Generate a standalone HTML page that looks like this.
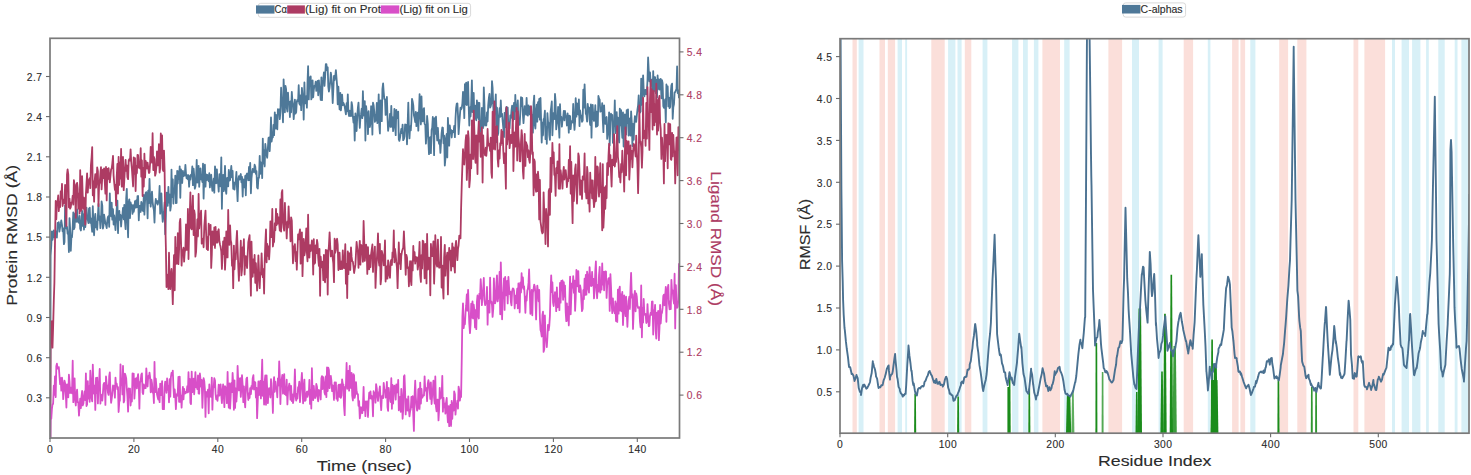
<!DOCTYPE html><html><head><meta charset="utf-8"><style>
html,body{margin:0;padding:0;background:#fff;}
body{width:1471px;height:475px;overflow:hidden;font-family:"Liberation Sans", sans-serif;}
svg{display:block;}
</style></head><body>
<svg width="1471" height="475" viewBox="0 0 1471 475" font-family='"Liberation Sans", sans-serif'>
<rect width="1471" height="475" fill="#fff"/>
<defs>
<clipPath id="cl"><rect x="50.0" y="38.3" width="629.5" height="399.7"/></clipPath>
<clipPath id="cr"><rect x="840.0" y="38.7" width="629.0" height="394.5"/></clipPath>
</defs>
<g clip-path="url(#cl)" fill="none" stroke-linejoin="round" stroke-linecap="butt">
<polyline points="50.3,438.0 50.6,255.7 51.3,245.3 51.9,231.3 52.5,239.9 53.1,236.1 53.8,230.4 54.4,237.4 55.0,235.2 55.7,235.3 56.3,231.4 56.9,237.7 57.6,223.0 58.2,226.5 58.8,222.2 59.4,231.6 60.1,227.0 60.7,224.0 61.3,220.3 62.0,224.8 62.6,231.4 63.2,228.5 63.9,244.2 64.5,242.0 65.1,205.4 65.7,211.4 66.4,228.5 67.0,226.9 67.6,233.7 68.3,234.4 68.9,252.0 69.5,218.1 70.1,227.7 70.8,250.8 71.4,236.8 72.0,237.2 72.7,226.5 73.3,212.3 73.9,229.2 74.6,227.5 75.2,213.4 75.8,215.5 76.4,221.8 77.1,209.5 77.7,219.1 78.3,222.3 79.0,222.8 79.6,215.9 80.2,228.6 80.9,230.5 81.5,223.3 82.1,211.0 82.7,225.9 83.4,214.3 84.0,229.6 84.6,207.4 85.3,227.2 85.9,219.5 86.5,207.6 87.1,217.8 87.8,219.5 88.4,223.2 89.0,208.6 89.7,207.8 90.3,222.9 90.9,218.5 91.6,225.8 92.2,231.8 92.8,206.2 93.4,224.3 94.1,235.3 94.7,219.6 95.3,213.8 96.0,227.4 96.6,222.5 97.2,229.8 97.9,216.1 98.5,203.9 99.1,219.9 99.7,216.5 100.4,228.1 101.0,220.6 101.6,201.4 102.3,205.7 102.9,228.6 103.5,225.6 104.1,214.6 104.8,219.4 105.4,223.3 106.0,224.6 106.7,228.1 107.3,220.6 107.9,216.9 108.6,215.9 109.2,226.8 109.8,193.4 110.4,214.8 111.1,216.2 111.7,202.7 112.3,219.6 113.0,209.2 113.6,224.5 114.2,215.4 114.9,222.9 115.5,230.2 116.1,220.1 116.7,208.8 117.4,200.6 118.0,233.1 118.6,214.4 119.3,210.9 119.9,219.8 120.5,215.0 121.1,226.5 121.8,217.1 122.4,215.1 123.0,207.8 123.7,219.3 124.3,204.8 124.9,220.5 125.6,229.2 126.2,198.6 126.8,188.8 127.4,219.3 128.1,237.3 128.7,202.2 129.3,199.3 130.0,218.0 130.6,202.4 131.2,205.3 131.9,205.1 132.5,213.9 133.1,205.2 133.7,211.8 134.4,208.0 135.0,201.1 135.6,207.7 136.3,200.4 136.9,207.3 137.5,196.2 138.1,196.0 138.8,220.3 139.4,205.8 140.0,205.9 140.7,212.0 141.3,201.8 141.9,203.8 142.6,210.4 143.2,211.0 143.8,194.8 144.4,214.6 145.1,200.2 145.7,192.8 146.3,192.2 147.0,200.4 147.6,218.3 148.2,190.7 148.9,203.1 149.5,178.8 150.1,198.1 150.7,206.7 151.4,197.0 152.0,191.6 152.6,201.8 153.3,207.4 153.9,210.0 154.5,222.5 155.1,206.2 155.8,198.9 156.4,202.8 157.0,200.8 157.7,204.7 158.3,201.2 158.9,202.6 159.6,186.0 160.2,213.7 160.8,198.9 161.4,193.5 162.1,212.4 162.7,221.8 163.3,217.3 164.0,211.7 164.6,202.4 165.2,234.3 165.9,215.8 166.5,192.7 167.1,198.2 167.7,205.9 168.4,186.9 169.0,202.6 169.6,194.3 170.3,210.6 170.9,206.4 171.5,169.6 172.1,197.1 172.8,179.3 173.4,203.6 174.0,190.2 174.7,191.8 175.3,175.6 175.9,203.2 176.6,202.9 177.2,170.8 177.8,183.5 178.4,171.5 179.1,179.2 179.7,166.3 180.3,197.8 181.0,169.5 181.6,175.7 182.2,183.0 182.9,170.9 183.5,176.1 184.1,172.9 184.7,175.7 185.4,164.9 186.0,173.5 186.6,178.3 187.3,175.1 187.9,179.4 188.5,175.2 189.1,186.8 189.8,176.1 190.4,179.7 191.0,174.7 191.7,175.0 192.3,166.5 192.9,185.2 193.6,168.7 194.2,175.8 194.8,188.7 195.4,186.8 196.1,178.6 196.7,159.8 197.3,182.5 198.0,182.1 198.6,165.9 199.2,186.8 199.9,174.1 200.5,168.4 201.1,179.4 201.7,177.8 202.4,182.2 203.0,163.6 203.6,198.6 204.3,174.4 204.9,164.7 205.5,186.7 206.1,174.4 206.8,180.1 207.4,174.8 208.0,177.1 208.7,181.4 209.3,173.2 209.9,187.4 210.6,176.1 211.2,174.8 211.8,185.0 212.4,190.8 213.1,185.1 213.7,178.7 214.3,192.7 215.0,166.4 215.6,171.9 216.2,183.3 216.9,169.3 217.5,182.9 218.1,183.0 218.7,191.6 219.4,174.2 220.0,176.9 220.6,186.3 221.3,157.3 221.9,208.8 222.5,178.0 223.1,174.8 223.8,191.1 224.4,183.3 225.0,165.9 225.7,189.6 226.3,193.8 226.9,178.3 227.6,177.8 228.2,186.4 228.8,169.9 229.4,180.7 230.1,180.0 230.7,172.3 231.3,166.0 232.0,177.3 232.6,170.9 233.2,188.8 233.9,182.4 234.5,189.7 235.1,183.5 235.7,181.7 236.4,171.9 237.0,188.6 237.6,201.1 238.3,179.9 238.9,176.2 239.5,179.5 240.1,176.4 240.8,174.0 241.4,182.3 242.0,176.9 242.7,196.5 243.3,179.3 243.9,182.2 244.6,187.5 245.2,175.8 245.8,195.3 246.4,175.0 247.1,173.5 247.7,175.4 248.3,180.3 249.0,167.0 249.6,180.2 250.2,162.8 250.9,193.3 251.5,178.3 252.1,172.5 252.7,168.8 253.4,170.4 254.0,172.3 254.6,164.7 255.3,166.7 255.9,174.0 256.5,171.2 257.1,187.5 257.8,188.6 258.4,177.8 259.0,177.9 259.7,155.9 260.3,173.8 260.9,162.4 261.6,165.6 262.2,178.1 262.8,138.6 263.4,163.6 264.1,150.4 264.7,166.4 265.3,143.9 266.0,150.3 266.6,154.9 267.2,157.8 267.9,147.7 268.5,137.9 269.1,137.4 269.7,151.2 270.4,137.5 271.0,117.5 271.6,141.7 272.3,136.4 272.9,137.2 273.5,124.8 274.1,135.1 274.8,112.4 275.4,128.5 276.0,114.9 276.7,125.8 277.3,129.4 277.9,109.1 278.6,112.2 279.2,109.4 279.8,119.2 280.4,111.7 281.1,87.7 281.7,101.4 282.3,104.4 283.0,122.3 283.6,79.3 284.2,92.8 284.9,112.3 285.5,86.0 286.1,89.2 286.7,107.3 287.4,111.5 288.0,92.6 288.6,103.5 289.3,101.9 289.9,117.0 290.5,101.4 291.1,112.3 291.8,91.8 292.4,100.8 293.0,104.5 293.7,119.1 294.3,111.2 294.9,99.6 295.6,113.5 296.2,112.1 296.8,101.8 297.4,99.8 298.1,101.4 298.7,85.2 299.3,103.6 300.0,104.8 300.6,95.5 301.2,110.1 301.9,87.8 302.5,95.2 303.1,98.4 303.7,119.6 304.4,82.4 305.0,101.6 305.6,103.4 306.3,96.2 306.9,107.7 307.5,82.8 308.1,66.2 308.8,99.4 309.4,77.3 310.0,85.6 310.7,76.4 311.3,99.4 311.9,96.8 312.6,80.3 313.2,97.3 313.8,89.8 314.4,85.8 315.1,86.3 315.7,81.7 316.3,90.9 317.0,87.3 317.6,80.8 318.2,95.3 318.9,80.4 319.5,89.4 320.1,91.2 320.7,99.9 321.4,77.3 322.0,100.2 322.6,82.1 323.3,79.4 323.9,72.5 324.5,85.9 325.1,77.1 325.8,64.2 326.4,64.2 327.0,70.4 327.7,67.3 328.3,86.7 328.9,91.6 329.6,87.5 330.2,81.4 330.8,72.6 331.4,76.7 332.1,87.2 332.7,103.0 333.3,90.0 334.0,75.8 334.6,80.2 335.2,76.5 335.9,70.2 336.5,77.8 337.1,85.6 337.7,104.3 338.4,86.7 339.0,101.0 339.6,109.4 340.3,92.9 340.9,110.4 341.5,104.6 342.1,94.6 342.8,105.1 343.4,102.8 344.0,104.4 344.7,106.5 345.3,110.7 345.9,114.4 346.6,103.2 347.2,111.0 347.8,94.3 348.4,112.1 349.1,116.1 349.7,110.7 350.3,113.0 351.0,116.2 351.6,102.1 352.2,105.6 352.9,116.6 353.5,122.6 354.1,116.9 354.7,140.5 355.4,113.5 356.0,126.8 356.6,131.0 357.3,115.8 357.9,107.6 358.5,102.6 359.1,115.4 359.8,127.9 360.4,118.1 361.0,114.7 361.7,108.6 362.3,118.2 362.9,91.2 363.6,115.5 364.2,114.8 364.8,101.2 365.4,140.5 366.1,106.1 366.7,112.9 367.3,112.5 368.0,134.1 368.6,111.1 369.2,126.4 369.9,127.0 370.5,122.7 371.1,106.2 371.7,111.4 372.4,134.6 373.0,102.7 373.6,105.2 374.3,111.8 374.9,121.9 375.5,114.8 376.1,120.6 376.8,103.0 377.4,123.2 378.0,118.3 378.7,94.3 379.3,125.8 379.9,133.5 380.6,100.4 381.2,108.3 381.8,121.2 382.4,89.2 383.1,83.4 383.7,92.1 384.3,99.0 385.0,99.1 385.6,114.9 386.2,113.5 386.9,97.0 387.5,117.5 388.1,130.8 388.7,126.4 389.4,123.7 390.0,113.9 390.6,126.9 391.3,105.8 391.9,126.5 392.5,117.2 393.1,131.1 393.8,124.5 394.4,108.9 395.0,122.9 395.7,135.2 396.3,109.9 396.9,118.3 397.6,117.4 398.2,111.7 398.8,139.4 399.4,140.9 400.1,137.3 400.7,133.0 401.3,128.8 402.0,133.1 402.6,124.6 403.2,140.2 403.9,138.9 404.5,136.6 405.1,124.4 405.7,130.1 406.4,124.8 407.0,144.3 407.6,125.4 408.3,102.6 408.9,126.6 409.5,138.4 410.1,126.4 410.8,130.4 411.4,120.8 412.0,98.8 412.7,101.7 413.3,105.4 413.9,115.3 414.6,118.0 415.2,122.0 415.8,111.8 416.4,126.2 417.1,115.0 417.7,112.7 418.3,130.6 419.0,111.4 419.6,94.1 420.2,113.0 420.9,124.4 421.5,96.4 422.1,120.5 422.7,121.4 423.4,109.3 424.0,108.1 424.6,123.8 425.3,124.9 425.9,143.7 426.5,135.0 427.1,116.0 427.8,123.8 428.4,141.9 429.0,154.2 429.7,137.8 430.3,137.1 430.9,153.1 431.6,130.0 432.2,127.7 432.8,117.0 433.4,127.7 434.1,155.2 434.7,118.1 435.3,133.9 436.0,116.7 436.6,130.6 437.2,140.4 437.9,127.8 438.5,140.4 439.1,143.9 439.7,140.2 440.4,152.9 441.0,143.2 441.6,133.0 442.3,127.5 442.9,127.8 443.5,143.3 444.1,135.6 444.8,165.6 445.4,158.8 446.0,137.8 446.7,133.9 447.3,157.4 447.9,117.8 448.6,132.5 449.2,145.6 449.8,125.5 450.4,130.8 451.1,129.9 451.7,137.5 452.3,130.8 453.0,131.4 453.6,132.2 454.2,125.9 454.9,137.1 455.5,118.5 456.1,108.1 456.7,103.8 457.4,103.4 458.0,115.4 458.6,134.2 459.3,123.4 459.9,115.4 460.5,107.7 461.1,109.5 461.8,107.9 462.4,103.0 463.0,91.8 463.7,101.1 464.3,118.1 464.9,84.2 465.6,104.4 466.2,82.6 466.8,105.1 467.4,95.4 468.1,82.0 468.7,106.2 469.3,125.5 470.0,107.5 470.6,116.5 471.2,102.7 471.9,80.3 472.5,112.0 473.1,102.4 473.7,92.9 474.4,119.5 475.0,114.9 475.6,105.7 476.3,120.3 476.9,100.5 477.5,117.6 478.1,102.6 478.8,119.3 479.4,102.9 480.0,131.5 480.7,120.9 481.3,132.1 481.9,107.9 482.6,112.4 483.2,127.9 483.8,87.3 484.4,103.1 485.1,125.5 485.7,118.3 486.3,125.5 487.0,112.4 487.6,121.5 488.2,105.7 488.9,97.7 489.5,93.8 490.1,107.6 490.7,106.4 491.4,103.3 492.0,81.1 492.6,87.8 493.3,106.9 493.9,119.7 494.5,109.7 495.1,107.9 495.8,94.3 496.4,142.0 497.0,107.7 497.7,135.2 498.3,133.0 498.9,116.5 499.6,108.1 500.2,116.9 500.8,100.5 501.4,116.0 502.1,113.9 502.7,121.6 503.3,127.9 504.0,137.0 504.6,112.8 505.2,127.3 505.9,109.2 506.5,106.8 507.1,109.5 507.7,107.6 508.4,128.3 509.0,125.3 509.6,128.4 510.3,115.3 510.9,118.0 511.5,110.3 512.1,105.6 512.8,121.2 513.4,118.1 514.0,102.9 514.7,119.2 515.3,94.8 515.9,111.3 516.6,107.5 517.2,107.5 517.8,100.3 518.4,124.8 519.1,119.1 519.7,124.8 520.3,112.6 521.0,97.2 521.6,106.2 522.2,97.9 522.9,115.0 523.5,123.1 524.1,114.7 524.7,106.1 525.4,109.5 526.0,114.7 526.6,97.8 527.3,114.9 527.9,115.5 528.5,105.3 529.1,108.1 529.8,114.5 530.4,106.6 531.0,107.4 531.7,122.8 532.3,115.0 532.9,132.7 533.6,102.8 534.2,95.6 534.8,124.9 535.4,128.5 536.1,110.4 536.7,104.7 537.3,121.7 538.0,102.2 538.6,116.8 539.2,99.0 539.9,119.7 540.5,98.0 541.1,120.1 541.7,142.5 542.4,122.6 543.0,135.4 543.6,119.3 544.3,118.1 544.9,110.7 545.5,139.2 546.1,127.0 546.8,143.8 547.4,113.1 548.0,121.8 548.7,122.9 549.3,135.5 549.9,139.9 550.6,111.7 551.2,107.2 551.8,101.5 552.4,135.3 553.1,119.0 553.7,112.9 554.3,119.2 555.0,94.0 555.6,101.4 556.2,129.4 556.9,123.2 557.5,120.3 558.1,106.8 558.7,123.2 559.4,137.7 560.0,104.2 560.6,119.0 561.3,116.8 561.9,126.6 562.5,119.5 563.1,118.5 563.8,110.8 564.4,120.4 565.0,111.0 565.7,117.0 566.3,116.0 566.9,125.5 567.6,113.3 568.2,119.1 568.8,132.7 569.4,115.7 570.1,116.3 570.7,129.2 571.3,121.5 572.0,120.9 572.6,122.5 573.2,104.0 573.9,121.5 574.5,129.9 575.1,121.4 575.7,98.2 576.4,116.7 577.0,103.3 577.6,111.2 578.3,114.6 578.9,99.5 579.5,126.1 580.1,110.5 580.8,116.9 581.4,115.5 582.0,121.8 582.7,120.5 583.3,89.6 583.9,107.6 584.6,84.4 585.2,100.7 585.8,113.8 586.4,114.9 587.1,121.6 587.7,103.9 588.3,109.9 589.0,107.6 589.6,119.9 590.2,125.0 590.9,104.5 591.5,137.7 592.1,107.5 592.7,105.0 593.4,118.6 594.0,120.9 594.6,118.2 595.3,105.2 595.9,126.8 596.5,111.7 597.1,126.4 597.8,125.2 598.4,96.0 599.0,98.5 599.7,99.7 600.3,111.6 600.9,110.1 601.6,111.2 602.2,103.1 602.8,120.1 603.4,132.2 604.1,105.3 604.7,118.4 605.3,123.8 606.0,118.9 606.6,117.0 607.2,138.9 607.9,133.2 608.5,128.3 609.1,112.4 609.7,145.4 610.4,123.2 611.0,113.6 611.6,116.0 612.3,114.9 612.9,142.8 613.5,124.5 614.1,126.0 614.8,100.3 615.4,133.0 616.0,114.4 616.7,112.1 617.3,131.4 617.9,117.6 618.6,137.2 619.2,142.5 619.8,108.6 620.4,125.4 621.1,110.2 621.7,127.2 622.3,137.8 623.0,112.5 623.6,146.5 624.2,122.8 624.9,114.3 625.5,121.8 626.1,134.5 626.7,110.1 627.4,123.2 628.0,109.3 628.6,135.6 629.3,125.1 629.9,118.4 630.5,135.5 631.1,111.3 631.8,122.7 632.4,146.1 633.0,123.9 633.7,139.8 634.3,124.9 634.9,116.1 635.6,121.2 636.2,121.8 636.8,115.5 637.4,110.0 638.1,105.3 638.7,95.4 639.3,111.5 640.0,112.5 640.6,111.5 641.2,78.6 641.9,104.8 642.5,92.9 643.1,75.4 643.7,89.8 644.4,96.3 645.0,90.1 645.6,89.9 646.3,94.4 646.9,90.9 647.5,80.5 648.1,57.5 648.8,71.3 649.4,81.3 650.0,72.3 650.7,84.1 651.3,85.8 651.9,79.6 652.6,100.5 653.2,71.1 653.8,91.3 654.4,77.2 655.1,77.2 655.7,93.0 656.3,79.8 657.0,97.5 657.6,75.5 658.2,88.9 658.9,79.4 659.5,89.6 660.1,87.2 660.7,78.9 661.4,98.3 662.0,80.1 662.6,83.2 663.3,106.2 663.9,107.8 664.5,104.8 665.1,99.4 665.8,122.4 666.4,84.5 667.0,89.9 667.7,86.5 668.3,106.4 668.9,97.6 669.6,108.1 670.2,106.8 670.8,92.9 671.4,85.4 672.1,83.7 672.7,118.8 673.3,107.4 674.0,104.1 674.6,92.5 675.2,92.1 675.9,90.2 676.5,89.1 677.1,66.5 677.7,93.0 678.4,90.4 679.0,98.3" stroke="#4e7898" stroke-width="1.8"/>
<polyline points="50.3,438.0 50.6,343.3 51.3,338.7 51.9,321.2 52.5,347.7 53.1,327.8 53.8,301.1 54.4,282.7 55.0,241.8 55.7,200.9 56.3,219.3 56.9,202.4 57.6,201.6 58.2,195.5 58.8,211.2 59.4,202.3 60.1,207.2 60.7,191.4 61.3,198.5 62.0,183.8 62.6,206.0 63.2,199.3 63.9,203.3 64.5,202.4 65.1,184.8 65.7,209.8 66.4,226.1 67.0,174.6 67.6,169.3 68.3,174.6 68.9,207.3 69.5,198.6 70.1,208.7 70.8,207.1 71.4,202.5 72.0,202.6 72.7,195.6 73.3,204.6 73.9,180.1 74.6,185.9 75.2,196.1 75.8,217.8 76.4,184.3 77.1,182.9 77.7,188.2 78.3,208.6 79.0,193.7 79.6,213.5 80.2,170.2 80.9,210.9 81.5,209.5 82.1,176.1 82.7,195.3 83.4,208.6 84.0,197.7 84.6,208.4 85.3,224.5 85.9,194.0 86.5,183.7 87.1,173.3 87.8,192.6 88.4,181.8 89.0,180.0 89.7,178.3 90.3,188.1 90.9,165.3 91.6,157.3 92.2,147.1 92.8,195.3 93.4,181.1 94.1,201.7 94.7,180.7 95.3,174.1 96.0,187.7 96.6,181.5 97.2,167.3 97.9,171.2 98.5,206.1 99.1,184.8 99.7,182.6 100.4,173.6 101.0,167.2 101.6,189.4 102.3,176.8 102.9,169.6 103.5,178.2 104.1,168.4 104.8,182.5 105.4,193.7 106.0,167.0 106.7,200.4 107.3,168.9 107.9,179.1 108.6,168.1 109.2,176.5 109.8,182.3 110.4,176.3 111.1,169.3 111.7,168.5 112.3,163.5 113.0,155.9 113.6,175.6 114.2,182.7 114.9,190.0 115.5,185.2 116.1,205.5 116.7,176.9 117.4,163.9 118.0,193.6 118.6,156.8 119.3,184.9 119.9,162.6 120.5,178.7 121.1,148.8 121.8,186.7 122.4,173.7 123.0,157.0 123.7,190.2 124.3,180.5 124.9,169.1 125.6,159.8 126.2,170.9 126.8,165.5 127.4,177.2 128.1,179.1 128.7,160.4 129.3,159.1 130.0,160.6 130.6,149.3 131.2,161.3 131.9,168.8 132.5,177.8 133.1,186.4 133.7,157.4 134.4,173.8 135.0,158.1 135.6,191.1 136.3,165.7 136.9,173.4 137.5,154.8 138.1,155.3 138.8,167.7 139.4,161.9 140.0,168.5 140.7,148.2 141.3,176.7 141.9,160.5 142.6,196.1 143.2,168.0 143.8,186.6 144.4,153.7 145.1,177.4 145.7,160.9 146.3,163.9 147.0,168.5 147.6,162.7 148.2,167.2 148.9,173.0 149.5,172.4 150.1,163.3 150.7,146.9 151.4,153.2 152.0,162.7 152.6,133.2 153.3,170.1 153.9,156.9 154.5,158.9 155.1,175.7 155.8,173.0 156.4,166.3 157.0,151.4 157.7,165.4 158.3,165.2 158.9,144.2 159.6,172.6 160.2,168.1 160.8,133.4 161.4,158.1 162.1,135.5 162.7,169.5 163.3,171.0 164.0,150.6 164.6,170.0 165.2,218.5 165.9,248.7 166.5,287.0 167.1,283.7 167.7,274.7 168.4,289.1 169.0,252.7 169.6,280.6 170.3,289.2 170.9,274.7 171.5,269.0 172.1,282.7 172.8,304.2 173.4,276.2 174.0,255.1 174.7,290.3 175.3,236.8 175.9,264.0 176.6,248.0 177.2,263.3 177.8,233.2 178.4,264.2 179.1,249.3 179.7,222.4 180.3,219.0 181.0,241.6 181.6,265.6 182.2,252.9 182.9,250.2 183.5,247.7 184.1,261.6 184.7,252.5 185.4,248.1 186.0,224.4 186.6,249.9 187.3,249.7 187.9,209.0 188.5,259.1 189.1,231.3 189.8,213.5 190.4,192.3 191.0,228.0 191.7,229.3 192.3,210.3 192.9,195.6 193.6,235.1 194.2,210.5 194.8,214.5 195.4,256.7 196.1,251.8 196.7,237.6 197.3,219.5 198.0,236.4 198.6,193.9 199.2,228.5 199.9,219.7 200.5,215.6 201.1,210.6 201.7,243.7 202.4,239.9 203.0,238.8 203.6,247.3 204.3,226.2 204.9,218.1 205.5,210.6 206.1,232.4 206.8,249.0 207.4,237.3 208.0,250.1 208.7,223.6 209.3,233.3 209.9,234.5 210.6,224.8 211.2,267.9 211.8,254.7 212.4,231.3 213.1,234.5 213.7,244.8 214.3,227.3 215.0,247.9 215.6,227.0 216.2,242.7 216.9,231.9 217.5,242.5 218.1,231.0 218.7,229.3 219.4,241.2 220.0,244.5 220.6,246.8 221.3,251.6 221.9,268.9 222.5,257.4 223.1,241.3 223.8,254.1 224.4,237.6 225.0,269.7 225.7,255.3 226.3,231.4 226.9,257.4 227.6,257.4 228.2,210.0 228.8,239.2 229.4,244.9 230.1,225.5 230.7,240.2 231.3,243.0 232.0,265.7 232.6,260.2 233.2,288.2 233.9,245.6 234.5,269.3 235.1,254.9 235.7,259.4 236.4,240.7 237.0,230.8 237.6,248.1 238.3,267.3 238.9,280.8 239.5,264.4 240.1,262.5 240.8,240.7 241.4,275.4 242.0,269.7 242.7,247.2 243.3,251.3 243.9,239.2 244.6,274.5 245.2,259.0 245.8,256.2 246.4,263.3 247.1,268.0 247.7,254.5 248.3,242.1 249.0,238.5 249.6,235.2 250.2,269.5 250.9,295.7 251.5,241.6 252.1,266.4 252.7,276.8 253.4,259.5 254.0,272.7 254.6,255.0 255.3,282.8 255.9,263.2 256.5,278.6 257.1,290.6 257.8,275.2 258.4,255.4 259.0,270.5 259.7,288.1 260.3,272.7 260.9,274.6 261.6,253.3 262.2,268.3 262.8,277.1 263.4,269.2 264.1,293.5 264.7,261.6 265.3,244.1 266.0,229.4 266.6,262.3 267.2,244.0 267.9,255.8 268.5,246.3 269.1,259.4 269.7,249.2 270.4,221.3 271.0,229.2 271.6,237.2 272.3,209.0 272.9,246.5 273.5,241.6 274.1,242.0 274.8,223.2 275.4,230.3 276.0,208.9 276.7,225.0 277.3,214.0 277.9,223.5 278.6,217.3 279.2,223.9 279.8,230.7 280.4,199.4 281.1,231.5 281.7,192.9 282.3,190.1 283.0,222.3 283.6,227.8 284.2,230.7 284.9,202.8 285.5,223.4 286.1,222.6 286.7,238.4 287.4,221.3 288.0,227.6 288.6,206.4 289.3,223.1 289.9,221.9 290.5,241.3 291.1,217.3 291.8,220.6 292.4,243.3 293.0,263.3 293.7,246.4 294.3,251.1 294.9,244.1 295.6,261.1 296.2,252.2 296.8,269.6 297.4,253.5 298.1,234.4 298.7,239.4 299.3,234.1 300.0,229.5 300.6,263.7 301.2,257.8 301.9,232.3 302.5,276.2 303.1,254.4 303.7,239.0 304.4,255.3 305.0,251.8 305.6,244.0 306.3,228.4 306.9,252.6 307.5,261.3 308.1,214.7 308.8,257.4 309.4,257.5 310.0,245.1 310.7,251.0 311.3,247.5 311.9,240.5 312.6,247.7 313.2,274.6 313.8,239.2 314.4,263.9 315.1,262.7 315.7,245.5 316.3,253.4 317.0,239.8 317.6,244.0 318.2,257.6 318.9,266.0 319.5,249.0 320.1,295.8 320.7,256.7 321.4,267.4 322.0,262.6 322.6,261.8 323.3,280.1 323.9,255.0 324.5,280.0 325.1,282.3 325.8,249.8 326.4,277.3 327.0,250.5 327.7,294.5 328.3,252.7 328.9,246.0 329.6,232.4 330.2,245.7 330.8,256.4 331.4,251.5 332.1,250.6 332.7,258.4 333.3,263.1 334.0,282.2 334.6,238.7 335.2,252.8 335.9,250.1 336.5,240.2 337.1,238.8 337.7,244.5 338.4,270.1 339.0,257.0 339.6,252.7 340.3,269.2 340.9,268.3 341.5,261.4 342.1,269.2 342.8,250.3 343.4,266.9 344.0,268.1 344.7,258.1 345.3,244.2 345.9,283.7 346.6,264.1 347.2,298.0 347.8,251.5 348.4,274.2 349.1,253.2 349.7,261.8 350.3,270.0 351.0,247.4 351.6,256.9 352.2,261.2 352.9,261.9 353.5,266.6 354.1,273.0 354.7,269.3 355.4,264.9 356.0,253.1 356.6,241.8 357.3,249.2 357.9,251.5 358.5,267.8 359.1,252.1 359.8,240.8 360.4,264.6 361.0,245.0 361.7,245.7 362.3,250.5 362.9,261.8 363.6,221.0 364.2,240.4 364.8,260.9 365.4,254.2 366.1,244.6 366.7,250.2 367.3,273.9 368.0,247.2 368.6,268.0 369.2,269.3 369.9,255.5 370.5,267.2 371.1,254.4 371.7,249.5 372.4,244.5 373.0,271.9 373.6,255.3 374.3,253.8 374.9,246.6 375.5,287.9 376.1,272.3 376.8,259.7 377.4,249.9 378.0,233.5 378.7,260.7 379.3,265.6 379.9,243.8 380.6,284.3 381.2,278.6 381.8,250.9 382.4,253.7 383.1,256.8 383.7,265.3 384.3,260.1 385.0,240.4 385.6,281.5 386.2,266.2 386.9,278.5 387.5,278.5 388.1,260.4 388.7,267.2 389.4,275.3 390.0,277.8 390.6,262.0 391.3,259.9 391.9,265.0 392.5,252.3 393.1,256.8 393.8,230.4 394.4,262.3 395.0,249.0 395.7,254.8 396.3,261.9 396.9,267.1 397.6,288.2 398.2,266.6 398.8,242.5 399.4,263.6 400.1,253.8 400.7,269.2 401.3,255.8 402.0,251.3 402.6,249.4 403.2,247.8 403.9,231.4 404.5,245.5 405.1,256.0 405.7,274.8 406.4,254.9 407.0,257.4 407.6,268.0 408.3,267.3 408.9,286.3 409.5,272.8 410.1,261.1 410.8,280.2 411.4,285.2 412.0,261.1 412.7,270.4 413.3,246.0 413.9,260.7 414.6,252.2 415.2,263.6 415.8,257.0 416.4,260.9 417.1,257.5 417.7,269.5 418.3,265.4 419.0,255.5 419.6,241.9 420.2,274.7 420.9,282.0 421.5,255.1 422.1,268.4 422.7,240.7 423.4,241.5 424.0,255.3 424.6,278.3 425.3,244.0 425.9,247.8 426.5,283.4 427.1,234.0 427.8,269.5 428.4,268.3 429.0,257.6 429.7,262.0 430.3,295.3 430.9,243.9 431.6,255.5 432.2,256.1 432.8,249.9 433.4,241.3 434.1,283.6 434.7,265.5 435.3,235.2 436.0,252.6 436.6,264.8 437.2,266.6 437.9,239.6 438.5,260.3 439.1,267.8 439.7,265.4 440.4,267.2 441.0,237.0 441.6,287.5 442.3,265.6 442.9,286.9 443.5,298.5 444.1,257.7 444.8,244.8 445.4,275.6 446.0,262.5 446.7,257.0 447.3,252.7 447.9,294.4 448.6,263.2 449.2,247.9 449.8,259.6 450.4,250.7 451.1,270.5 451.7,258.5 452.3,243.3 453.0,266.3 453.6,247.4 454.2,265.5 454.9,272.7 455.5,246.0 456.1,240.9 456.7,250.9 457.4,260.2 458.0,248.9 458.6,245.3 459.3,235.6 459.9,237.8 460.5,238.4 461.1,208.5 461.8,183.1 462.4,165.2 463.0,149.2 463.7,161.4 464.3,164.5 464.9,154.3 465.6,140.5 466.2,135.1 466.8,179.9 467.4,164.5 468.1,131.2 468.7,138.4 469.3,187.3 470.0,178.9 470.6,154.5 471.2,168.3 471.9,120.3 472.5,147.2 473.1,159.0 473.7,110.6 474.4,131.7 475.0,157.0 475.6,162.9 476.3,135.3 476.9,151.8 477.5,174.0 478.1,135.2 478.8,121.2 479.4,141.7 480.0,132.9 480.7,156.8 481.3,142.5 481.9,127.3 482.6,182.6 483.2,135.3 483.8,151.6 484.4,151.2 485.1,155.4 485.7,147.7 486.3,155.8 487.0,148.1 487.6,129.0 488.2,145.6 488.9,143.6 489.5,145.7 490.1,150.8 490.7,137.7 491.4,172.7 492.0,177.9 492.6,111.7 493.3,148.9 493.9,134.2 494.5,101.3 495.1,149.5 495.8,127.2 496.4,131.2 497.0,126.1 497.7,159.2 498.3,166.6 498.9,150.4 499.6,158.7 500.2,143.2 500.8,145.2 501.4,130.0 502.1,143.0 502.7,131.6 503.3,150.8 504.0,163.2 504.6,153.5 505.2,163.8 505.9,188.7 506.5,107.3 507.1,144.5 507.7,137.9 508.4,138.0 509.0,122.7 509.6,148.2 510.3,140.4 510.9,135.0 511.5,143.0 512.1,139.4 512.8,112.2 513.4,171.1 514.0,147.8 514.7,132.4 515.3,146.6 515.9,128.6 516.6,107.8 517.2,160.5 517.8,111.4 518.4,136.3 519.1,144.2 519.7,161.1 520.3,161.3 521.0,141.9 521.6,130.1 522.2,136.8 522.9,171.0 523.5,178.7 524.1,158.2 524.7,134.0 525.4,165.9 526.0,142.2 526.6,144.0 527.3,146.0 527.9,157.2 528.5,150.3 529.1,159.6 529.8,162.8 530.4,150.9 531.0,106.2 531.7,119.6 532.3,154.1 532.9,152.4 533.6,195.3 534.2,159.4 534.8,161.8 535.4,186.5 536.1,191.8 536.7,174.3 537.3,191.2 538.0,171.7 538.6,180.1 539.2,219.4 539.9,180.0 540.5,221.6 541.1,225.8 541.7,231.1 542.4,233.4 543.0,232.4 543.6,192.3 544.3,214.3 544.9,218.9 545.5,244.0 546.1,208.8 546.8,217.3 547.4,219.0 548.0,246.4 548.7,191.1 549.3,189.0 549.9,214.8 550.6,157.8 551.2,191.9 551.8,169.8 552.4,142.8 553.1,163.2 553.7,152.3 554.3,174.5 555.0,176.0 555.6,195.8 556.2,168.1 556.9,173.2 557.5,161.4 558.1,170.1 558.7,188.5 559.4,144.1 560.0,188.8 560.6,170.1 561.3,176.5 561.9,178.9 562.5,188.7 563.1,173.4 563.8,166.8 564.4,179.5 565.0,174.3 565.7,170.1 566.3,176.6 566.9,187.2 567.6,179.0 568.2,181.2 568.8,159.8 569.4,178.2 570.1,146.2 570.7,193.7 571.3,162.0 572.0,198.7 572.6,223.2 573.2,175.3 573.9,201.0 574.5,185.0 575.1,169.2 575.7,164.5 576.4,186.7 577.0,203.5 577.6,185.0 578.3,153.4 578.9,156.3 579.5,171.4 580.1,194.8 580.8,180.4 581.4,184.0 582.0,198.9 582.7,176.5 583.3,179.8 583.9,178.8 584.6,153.5 585.2,192.0 585.8,190.2 586.4,198.4 587.1,166.8 587.7,173.7 588.3,203.4 589.0,195.0 589.6,211.6 590.2,172.6 590.9,192.6 591.5,180.3 592.1,198.3 592.7,180.3 593.4,197.9 594.0,207.2 594.6,201.6 595.3,157.0 595.9,201.3 596.5,193.3 597.1,166.3 597.8,167.1 598.4,183.4 599.0,196.5 599.7,180.0 600.3,163.2 600.9,192.4 601.6,192.2 602.2,230.3 602.8,164.1 603.4,227.7 604.1,212.2 604.7,187.4 605.3,208.8 606.0,185.9 606.6,198.0 607.2,163.2 607.9,175.0 608.5,155.9 609.1,143.7 609.7,166.3 610.4,155.2 611.0,172.1 611.6,186.5 612.3,159.7 612.9,162.7 613.5,165.2 614.1,134.2 614.8,166.5 615.4,160.8 616.0,161.9 616.7,141.6 617.3,126.2 617.9,156.6 618.6,164.2 619.2,177.0 619.8,174.5 620.4,182.5 621.1,164.0 621.7,172.3 622.3,150.7 623.0,169.6 623.6,170.0 624.2,191.5 624.9,151.9 625.5,127.3 626.1,175.3 626.7,140.9 627.4,153.7 628.0,151.1 628.6,141.4 629.3,179.6 629.9,166.6 630.5,145.5 631.1,158.8 631.8,151.0 632.4,167.3 633.0,153.0 633.7,144.0 634.3,145.3 634.9,149.1 635.6,156.5 636.2,135.6 636.8,152.6 637.4,164.1 638.1,193.2 638.7,166.3 639.3,105.5 640.0,141.4 640.6,141.3 641.2,147.3 641.9,167.7 642.5,151.8 643.1,97.7 643.7,138.1 644.4,132.2 645.0,130.7 645.6,145.8 646.3,103.0 646.9,138.6 647.5,87.1 648.1,118.1 648.8,124.7 649.4,149.9 650.0,98.6 650.7,80.2 651.3,112.1 651.9,89.4 652.6,129.5 653.2,93.2 653.8,90.8 654.4,125.3 655.1,104.5 655.7,121.9 656.3,83.7 657.0,134.5 657.6,100.1 658.2,130.6 658.9,98.6 659.5,95.8 660.1,122.3 660.7,129.2 661.4,158.9 662.0,137.7 662.6,148.1 663.3,152.4 663.9,183.4 664.5,123.9 665.1,161.2 665.8,134.8 666.4,146.1 667.0,134.9 667.7,168.3 668.3,123.4 668.9,123.6 669.6,144.4 670.2,124.1 670.8,159.1 671.4,159.8 672.1,132.8 672.7,156.4 673.3,135.0 674.0,150.6 674.6,151.6 675.2,183.4 675.9,154.8 676.5,137.6 677.1,137.4 677.7,175.3 678.4,127.1 679.0,150.9" stroke="#ad3b63" stroke-width="1.8"/>
<polyline points="50.3,438.0 50.6,407.3 51.3,418.8 51.9,409.2 52.5,404.5 53.1,403.9 53.8,385.7 54.4,394.9 55.0,376.3 55.7,397.1 56.3,366.1 56.9,363.6 57.6,368.6 58.2,368.4 58.8,367.1 59.4,374.9 60.1,384.2 60.7,378.1 61.3,390.6 62.0,377.7 62.6,382.9 63.2,399.2 63.9,389.9 64.5,380.7 65.1,383.3 65.7,392.1 66.4,407.5 67.0,384.3 67.6,385.2 68.3,397.3 68.9,374.7 69.5,381.3 70.1,393.0 70.8,391.8 71.4,387.5 72.0,393.3 72.7,360.7 73.3,402.2 73.9,384.2 74.6,378.3 75.2,400.4 75.8,405.5 76.4,394.4 77.1,389.7 77.7,402.2 78.3,402.2 79.0,415.7 79.6,406.4 80.2,398.6 80.9,408.2 81.5,396.7 82.1,391.0 82.7,405.4 83.4,403.4 84.0,396.5 84.6,391.3 85.3,400.1 85.9,373.3 86.5,406.0 87.1,404.5 87.8,381.1 88.4,398.7 89.0,386.7 89.7,401.8 90.3,370.7 90.9,380.2 91.6,398.3 92.2,401.4 92.8,364.6 93.4,383.3 94.1,393.7 94.7,385.7 95.3,409.9 96.0,378.0 96.6,393.1 97.2,377.6 97.9,403.4 98.5,385.6 99.1,382.3 99.7,369.0 100.4,403.7 101.0,394.5 101.6,396.5 102.3,400.6 102.9,393.7 103.5,384.5 104.1,383.0 104.8,383.1 105.4,404.9 106.0,376.5 106.7,384.4 107.3,386.0 107.9,392.5 108.6,394.9 109.2,376.2 109.8,372.4 110.4,390.2 111.1,402.8 111.7,398.9 112.3,393.8 113.0,385.5 113.6,389.9 114.2,386.1 114.9,397.6 115.5,377.6 116.1,385.6 116.7,383.5 117.4,389.4 118.0,387.2 118.6,412.0 119.3,401.8 119.9,400.3 120.5,364.3 121.1,384.9 121.8,380.7 122.4,394.4 123.0,365.8 123.7,402.4 124.3,400.6 124.9,373.6 125.6,375.6 126.2,378.5 126.8,388.5 127.4,396.1 128.1,411.6 128.7,388.5 129.3,397.3 130.0,388.6 130.6,405.5 131.2,395.2 131.9,401.5 132.5,373.4 133.1,382.0 133.7,373.6 134.4,398.6 135.0,388.6 135.6,378.7 136.3,378.1 136.9,388.4 137.5,378.1 138.1,374.1 138.8,386.1 139.4,408.7 140.0,382.5 140.7,381.1 141.3,374.7 141.9,373.4 142.6,392.7 143.2,394.0 143.8,384.3 144.4,388.4 145.1,385.3 145.7,388.2 146.3,368.3 147.0,378.9 147.6,386.5 148.2,376.2 148.9,377.9 149.5,372.6 150.1,377.2 150.7,392.3 151.4,379.7 152.0,383.1 152.6,392.5 153.3,391.9 153.9,403.0 154.5,361.8 155.1,392.2 155.8,378.7 156.4,386.9 157.0,394.2 157.7,397.4 158.3,399.6 158.9,388.7 159.6,402.1 160.2,383.6 160.8,385.5 161.4,395.1 162.1,381.1 162.7,409.0 163.3,397.7 164.0,409.2 164.6,387.2 165.2,381.7 165.9,386.4 166.5,392.8 167.1,378.5 167.7,389.9 168.4,385.8 169.0,402.3 169.6,379.1 170.3,396.6 170.9,377.2 171.5,373.0 172.1,375.4 172.8,370.7 173.4,385.7 174.0,397.1 174.7,389.3 175.3,396.9 175.9,409.2 176.6,394.4 177.2,395.8 177.8,392.0 178.4,376.9 179.1,401.8 179.7,376.6 180.3,401.8 181.0,395.7 181.6,407.7 182.2,395.7 182.9,386.8 183.5,399.4 184.1,388.9 184.7,393.6 185.4,393.2 186.0,391.7 186.6,392.6 187.3,386.2 187.9,392.4 188.5,372.2 189.1,391.3 189.8,379.0 190.4,402.8 191.0,404.1 191.7,371.6 192.3,392.2 192.9,390.7 193.6,378.7 194.2,394.3 194.8,384.1 195.4,372.1 196.1,387.0 196.7,385.4 197.3,389.1 198.0,375.3 198.6,393.4 199.2,393.7 199.9,373.5 200.5,379.3 201.1,386.8 201.7,379.9 202.4,407.8 203.0,391.6 203.6,378.2 204.3,381.5 204.9,389.2 205.5,416.9 206.1,391.8 206.8,393.7 207.4,396.6 208.0,389.7 208.7,413.3 209.3,384.5 209.9,396.7 210.6,392.6 211.2,396.9 211.8,377.6 212.4,409.7 213.1,386.8 213.7,387.3 214.3,378.2 215.0,380.5 215.6,394.2 216.2,399.3 216.9,396.1 217.5,400.8 218.1,393.9 218.7,384.6 219.4,395.5 220.0,392.1 220.6,384.4 221.3,395.5 221.9,403.1 222.5,391.3 223.1,384.5 223.8,395.9 224.4,407.2 225.0,386.2 225.7,387.8 226.3,387.7 226.9,403.1 227.6,371.9 228.2,397.3 228.8,407.6 229.4,383.4 230.1,408.5 230.7,396.6 231.3,383.1 232.0,392.2 232.6,373.0 233.2,383.0 233.9,409.8 234.5,380.3 235.1,407.9 235.7,388.4 236.4,401.6 237.0,392.3 237.6,365.9 238.3,382.5 238.9,390.5 239.5,379.2 240.1,378.1 240.8,396.9 241.4,387.3 242.0,375.2 242.7,385.9 243.3,402.2 243.9,386.3 244.6,400.7 245.2,407.4 245.8,389.9 246.4,378.7 247.1,377.6 247.7,392.0 248.3,400.0 249.0,393.4 249.6,398.0 250.2,388.1 250.9,394.1 251.5,385.9 252.1,389.0 252.7,378.1 253.4,375.1 254.0,389.5 254.6,381.9 255.3,382.5 255.9,397.5 256.5,388.0 257.1,418.2 257.8,399.9 258.4,381.5 259.0,395.0 259.7,390.6 260.3,380.8 260.9,398.4 261.6,379.7 262.2,359.7 262.8,395.8 263.4,381.7 264.1,404.5 264.7,381.3 265.3,375.4 266.0,404.8 266.6,375.3 267.2,389.2 267.9,403.1 268.5,390.5 269.1,388.2 269.7,389.7 270.4,397.5 271.0,379.1 271.6,393.8 272.3,394.1 272.9,412.9 273.5,383.4 274.1,377.1 274.8,391.8 275.4,381.6 276.0,388.5 276.7,387.6 277.3,397.3 277.9,378.5 278.6,385.5 279.2,361.3 279.8,377.0 280.4,404.0 281.1,380.6 281.7,379.4 282.3,375.0 283.0,393.6 283.6,389.2 284.2,374.1 284.9,394.2 285.5,390.3 286.1,395.4 286.7,379.7 287.4,404.4 288.0,391.4 288.6,387.9 289.3,383.6 289.9,388.4 290.5,399.6 291.1,386.0 291.8,401.0 292.4,394.4 293.0,403.0 293.7,398.9 294.3,389.0 294.9,369.4 295.6,395.8 296.2,400.7 296.8,394.0 297.4,398.7 298.1,387.1 298.7,387.5 299.3,381.7 300.0,402.2 300.6,391.7 301.2,383.2 301.9,373.0 302.5,386.4 303.1,403.3 303.7,391.4 304.4,379.6 305.0,400.9 305.6,400.4 306.3,394.1 306.9,391.7 307.5,396.9 308.1,391.3 308.8,394.6 309.4,379.9 310.0,403.9 310.7,389.8 311.3,408.5 311.9,368.2 312.6,397.0 313.2,400.2 313.8,386.0 314.4,394.6 315.1,398.1 315.7,396.0 316.3,383.9 317.0,386.8 317.6,397.9 318.2,401.3 318.9,390.0 319.5,391.0 320.1,392.0 320.7,399.5 321.4,378.3 322.0,376.1 322.6,389.0 323.3,377.2 323.9,383.4 324.5,392.5 325.1,394.6 325.8,376.3 326.4,397.1 327.0,367.5 327.7,391.1 328.3,367.7 328.9,370.0 329.6,388.2 330.2,377.8 330.8,375.9 331.4,380.7 332.1,391.2 332.7,385.4 333.3,387.9 334.0,399.9 334.6,382.5 335.2,382.6 335.9,382.5 336.5,398.6 337.1,397.4 337.7,400.8 338.4,385.4 339.0,384.6 339.6,396.9 340.3,384.4 340.9,397.9 341.5,395.3 342.1,379.4 342.8,384.4 343.4,384.4 344.0,405.7 344.7,415.2 345.3,386.8 345.9,386.4 346.6,363.0 347.2,388.8 347.8,384.0 348.4,370.9 349.1,390.7 349.7,365.9 350.3,383.6 351.0,388.2 351.6,372.9 352.2,395.3 352.9,400.5 353.5,374.1 354.1,375.6 354.7,397.9 355.4,393.7 356.0,382.1 356.6,391.3 357.3,394.2 357.9,394.1 358.5,405.8 359.1,401.1 359.8,418.4 360.4,413.9 361.0,407.1 361.7,410.3 362.3,413.2 362.9,406.8 363.6,387.0 364.2,410.3 364.8,401.4 365.4,416.1 366.1,401.3 366.7,404.9 367.3,401.5 368.0,416.9 368.6,401.7 369.2,392.7 369.9,398.3 370.5,391.4 371.1,398.7 371.7,395.8 372.4,400.6 373.0,416.3 373.6,391.1 374.3,395.6 374.9,392.8 375.5,402.7 376.1,384.1 376.8,388.5 377.4,396.6 378.0,401.0 378.7,393.9 379.3,390.9 379.9,386.4 380.6,401.7 381.2,410.2 381.8,397.5 382.4,395.6 383.1,398.2 383.7,382.8 384.3,389.2 385.0,390.4 385.6,397.6 386.2,393.8 386.9,381.8 387.5,407.0 388.1,410.9 388.7,387.8 389.4,397.0 390.0,397.0 390.6,402.0 391.3,378.2 391.9,408.8 392.5,384.8 393.1,403.5 393.8,389.0 394.4,385.6 395.0,387.3 395.7,399.6 396.3,384.5 396.9,392.6 397.6,391.2 398.2,379.9 398.8,410.3 399.4,402.3 400.1,397.0 400.7,411.8 401.3,389.0 402.0,399.4 402.6,418.8 403.2,409.6 403.9,376.5 404.5,375.3 405.1,391.9 405.7,414.4 406.4,399.1 407.0,400.3 407.6,410.5 408.3,396.4 408.9,409.4 409.5,416.4 410.1,411.3 410.8,409.0 411.4,396.9 412.0,407.1 412.7,396.1 413.3,415.7 413.9,430.9 414.6,394.8 415.2,380.7 415.8,397.0 416.4,404.9 417.1,410.7 417.7,409.0 418.3,389.4 419.0,388.7 419.6,408.9 420.2,382.6 420.9,403.5 421.5,388.8 422.1,397.8 422.7,396.8 423.4,395.2 424.0,395.4 424.6,376.4 425.3,390.7 425.9,387.9 426.5,391.6 427.1,401.1 427.8,383.6 428.4,380.2 429.0,383.2 429.7,390.7 430.3,398.9 430.9,382.5 431.6,404.0 432.2,394.7 432.8,390.9 433.4,380.7 434.1,397.8 434.7,403.7 435.3,376.5 436.0,407.0 436.6,411.3 437.2,399.7 437.9,399.7 438.5,420.4 439.1,409.8 439.7,387.9 440.4,398.7 441.0,396.6 441.6,397.6 442.3,375.8 442.9,411.7 443.5,397.6 444.1,407.4 444.8,403.6 445.4,413.7 446.0,403.1 446.7,398.0 447.3,413.1 447.9,422.3 448.6,406.2 449.2,426.1 449.8,411.8 450.4,404.9 451.1,425.9 451.7,400.8 452.3,418.8 453.0,403.0 453.6,410.6 454.2,391.4 454.9,394.3 455.5,414.6 456.1,406.4 456.7,405.5 457.4,400.6 458.0,408.6 458.6,386.6 459.3,390.2 459.9,400.6 460.5,393.8 461.1,397.0 461.8,356.0 462.4,316.9 463.0,303.3 463.7,328.2 464.3,321.6 464.9,324.3 465.6,311.3 466.2,305.2 466.8,294.5 467.4,310.7 468.1,289.8 468.7,307.9 469.3,323.6 470.0,333.2 470.6,323.8 471.2,303.7 471.9,317.7 472.5,301.4 473.1,318.4 473.7,304.7 474.4,310.9 475.0,327.4 475.6,310.2 476.3,329.2 476.9,302.1 477.5,295.5 478.1,315.9 478.8,318.5 479.4,293.6 480.0,298.8 480.7,279.2 481.3,289.4 481.9,305.2 482.6,293.5 483.2,290.1 483.8,278.0 484.4,299.8 485.1,305.2 485.7,303.1 486.3,302.3 487.0,287.0 487.6,324.7 488.2,301.2 488.9,300.7 489.5,312.5 490.1,277.6 490.7,302.6 491.4,301.5 492.0,305.3 492.6,316.9 493.3,308.3 493.9,278.3 494.5,296.0 495.1,303.4 495.8,300.1 496.4,282.7 497.0,275.4 497.7,301.4 498.3,297.2 498.9,292.2 499.6,271.9 500.2,314.3 500.8,262.3 501.4,286.2 502.1,319.3 502.7,292.3 503.3,295.7 504.0,278.3 504.6,309.9 505.2,276.9 505.9,295.4 506.5,293.8 507.1,281.0 507.7,303.4 508.4,276.9 509.0,286.5 509.6,294.2 510.3,291.6 510.9,302.0 511.5,305.4 512.1,291.3 512.8,288.5 513.4,288.7 514.0,290.8 514.7,308.4 515.3,295.7 515.9,303.3 516.6,296.2 517.2,288.7 517.8,308.3 518.4,283.5 519.1,293.7 519.7,312.4 520.3,282.6 521.0,292.5 521.6,273.2 522.2,287.5 522.9,277.5 523.5,288.9 524.1,286.4 524.7,296.1 525.4,312.8 526.0,296.7 526.6,300.7 527.3,290.5 527.9,288.9 528.5,282.9 529.1,269.5 529.8,292.8 530.4,313.8 531.0,300.5 531.7,290.0 532.3,315.3 532.9,292.5 533.6,288.8 534.2,284.6 534.8,286.5 535.4,293.7 536.1,319.4 536.7,294.3 537.3,285.7 538.0,291.9 538.6,301.3 539.2,289.9 539.9,318.6 540.5,329.9 541.1,332.0 541.7,336.5 542.4,315.2 543.0,311.7 543.6,351.9 544.3,349.0 544.9,315.4 545.5,338.7 546.1,339.2 546.8,347.1 547.4,337.5 548.0,324.8 548.7,330.3 549.3,325.6 549.9,316.3 550.6,290.5 551.2,275.4 551.8,292.0 552.4,282.3 553.1,302.9 553.7,306.0 554.3,298.4 555.0,292.1 555.6,296.7 556.2,311.1 556.9,287.5 557.5,307.3 558.1,305.4 558.7,298.5 559.4,310.2 560.0,283.0 560.6,302.7 561.3,280.8 561.9,283.4 562.5,280.4 563.1,299.8 563.8,282.1 564.4,296.7 565.0,285.6 565.7,312.1 566.3,321.2 566.9,303.3 567.6,320.6 568.2,307.1 568.8,325.4 569.4,298.8 570.1,276.6 570.7,314.3 571.3,296.5 572.0,283.4 572.6,287.7 573.2,276.2 573.9,292.8 574.5,280.7 575.1,310.8 575.7,297.7 576.4,270.0 577.0,271.6 577.6,286.3 578.3,271.1 578.9,291.7 579.5,292.0 580.1,285.4 580.8,289.7 581.4,301.4 582.0,311.1 582.7,308.8 583.3,290.2 583.9,299.3 584.6,278.6 585.2,294.9 585.8,274.9 586.4,294.7 587.1,271.6 587.7,275.2 588.3,288.9 589.0,292.7 589.6,267.1 590.2,277.8 590.9,285.8 591.5,286.0 592.1,271.8 592.7,285.0 593.4,279.0 594.0,298.4 594.6,290.8 595.3,270.9 595.9,261.3 596.5,287.0 597.1,298.3 597.8,284.8 598.4,291.7 599.0,275.0 599.7,266.9 600.3,292.7 600.9,283.7 601.6,289.7 602.2,263.4 602.8,284.6 603.4,272.0 604.1,290.3 604.7,271.9 605.3,271.4 606.0,271.6 606.6,297.9 607.2,285.1 607.9,281.9 608.5,278.5 609.1,278.1 609.7,310.9 610.4,274.1 611.0,286.6 611.6,302.9 612.3,313.1 612.9,298.4 613.5,310.5 614.1,309.4 614.8,313.3 615.4,301.3 616.0,321.0 616.7,303.6 617.3,321.9 617.9,289.6 618.6,313.7 619.2,289.3 619.8,286.7 620.4,310.7 621.1,294.4 621.7,311.3 622.3,292.0 623.0,325.0 623.6,309.0 624.2,295.5 624.9,309.6 625.5,316.1 626.1,296.7 626.7,310.4 627.4,326.8 628.0,312.3 628.6,300.9 629.3,296.6 629.9,308.9 630.5,287.2 631.1,272.9 631.8,297.6 632.4,294.2 633.0,328.9 633.7,311.0 634.3,296.1 634.9,290.8 635.6,311.3 636.2,293.5 636.8,296.7 637.4,305.2 638.1,307.9 638.7,307.8 639.3,307.1 640.0,321.9 640.6,327.3 641.2,285.5 641.9,337.3 642.5,307.8 643.1,322.6 643.7,299.0 644.4,314.3 645.0,314.9 645.6,314.0 646.3,323.0 646.9,321.4 647.5,304.1 648.1,316.3 648.8,326.2 649.4,325.7 650.0,315.4 650.7,312.7 651.3,314.8 651.9,301.7 652.6,301.5 653.2,334.6 653.8,310.7 654.4,314.7 655.1,304.8 655.7,330.7 656.3,338.6 657.0,312.6 657.6,320.6 658.2,310.9 658.9,340.2 659.5,327.7 660.1,305.0 660.7,323.5 661.4,313.8 662.0,312.7 662.6,307.9 663.3,295.8 663.9,294.6 664.5,305.3 665.1,297.1 665.8,286.9 666.4,321.8 667.0,294.8 667.7,288.5 668.3,284.9 668.9,303.6 669.6,309.3 670.2,301.2 670.8,309.1 671.4,279.8 672.1,293.1 672.7,290.3 673.3,298.9 674.0,303.6 674.6,273.7 675.2,328.4 675.9,285.2 676.5,303.0 677.1,307.8 677.7,306.7 678.4,299.6 679.0,263.3" stroke="#d84fc8" stroke-width="1.8"/>
</g>
<rect x="50.0" y="38.3" width="629.5" height="399.7" fill="none" stroke="#7a7a7a" stroke-width="1.7"/>
<line x1="46.0" y1="397.8" x2="50.0" y2="397.8" stroke="#6a6a6a" stroke-width="1.1"/>
<text x="42.4" y="402.0" font-size="10.3" letter-spacing="0.45" fill="#2b2b2b" stroke="#2b2b2b" stroke-width="0.12" text-anchor="end">0.3</text>
<line x1="46.0" y1="357.7" x2="50.0" y2="357.7" stroke="#6a6a6a" stroke-width="1.1"/>
<text x="42.4" y="361.9" font-size="10.3" letter-spacing="0.45" fill="#2b2b2b" stroke="#2b2b2b" stroke-width="0.12" text-anchor="end">0.6</text>
<line x1="46.0" y1="317.5" x2="50.0" y2="317.5" stroke="#6a6a6a" stroke-width="1.1"/>
<text x="42.4" y="321.7" font-size="10.3" letter-spacing="0.45" fill="#2b2b2b" stroke="#2b2b2b" stroke-width="0.12" text-anchor="end">0.9</text>
<line x1="46.0" y1="277.3" x2="50.0" y2="277.3" stroke="#6a6a6a" stroke-width="1.1"/>
<text x="42.4" y="281.5" font-size="10.3" letter-spacing="0.45" fill="#2b2b2b" stroke="#2b2b2b" stroke-width="0.12" text-anchor="end">1.2</text>
<line x1="46.0" y1="237.1" x2="50.0" y2="237.1" stroke="#6a6a6a" stroke-width="1.1"/>
<text x="42.4" y="241.3" font-size="10.3" letter-spacing="0.45" fill="#2b2b2b" stroke="#2b2b2b" stroke-width="0.12" text-anchor="end">1.5</text>
<line x1="46.0" y1="197.0" x2="50.0" y2="197.0" stroke="#6a6a6a" stroke-width="1.1"/>
<text x="42.4" y="201.2" font-size="10.3" letter-spacing="0.45" fill="#2b2b2b" stroke="#2b2b2b" stroke-width="0.12" text-anchor="end">1.8</text>
<line x1="46.0" y1="156.8" x2="50.0" y2="156.8" stroke="#6a6a6a" stroke-width="1.1"/>
<text x="42.4" y="161.0" font-size="10.3" letter-spacing="0.45" fill="#2b2b2b" stroke="#2b2b2b" stroke-width="0.12" text-anchor="end">2.1</text>
<line x1="46.0" y1="116.6" x2="50.0" y2="116.6" stroke="#6a6a6a" stroke-width="1.1"/>
<text x="42.4" y="120.8" font-size="10.3" letter-spacing="0.45" fill="#2b2b2b" stroke="#2b2b2b" stroke-width="0.12" text-anchor="end">2.4</text>
<line x1="46.0" y1="76.5" x2="50.0" y2="76.5" stroke="#6a6a6a" stroke-width="1.1"/>
<text x="42.4" y="80.7" font-size="10.3" letter-spacing="0.45" fill="#2b2b2b" stroke="#2b2b2b" stroke-width="0.12" text-anchor="end">2.7</text>
<line x1="679.5" y1="395.1" x2="683.5" y2="395.1" stroke="#6a6a6a" stroke-width="1.1"/>
<text x="686.7" y="399.3" font-size="10.3" letter-spacing="0.45" fill="#ad3b63" stroke="#ad3b63" stroke-width="0.12">0.6</text>
<line x1="679.5" y1="352.2" x2="683.5" y2="352.2" stroke="#6a6a6a" stroke-width="1.1"/>
<text x="686.7" y="356.4" font-size="10.3" letter-spacing="0.45" fill="#ad3b63" stroke="#ad3b63" stroke-width="0.12">1.2</text>
<line x1="679.5" y1="309.3" x2="683.5" y2="309.3" stroke="#6a6a6a" stroke-width="1.1"/>
<text x="686.7" y="313.5" font-size="10.3" letter-spacing="0.45" fill="#ad3b63" stroke="#ad3b63" stroke-width="0.12">1.8</text>
<line x1="679.5" y1="266.4" x2="683.5" y2="266.4" stroke="#6a6a6a" stroke-width="1.1"/>
<text x="686.7" y="270.6" font-size="10.3" letter-spacing="0.45" fill="#ad3b63" stroke="#ad3b63" stroke-width="0.12">2.4</text>
<line x1="679.5" y1="223.5" x2="683.5" y2="223.5" stroke="#6a6a6a" stroke-width="1.1"/>
<text x="686.7" y="227.7" font-size="10.3" letter-spacing="0.45" fill="#ad3b63" stroke="#ad3b63" stroke-width="0.12">3.0</text>
<line x1="679.5" y1="180.6" x2="683.5" y2="180.6" stroke="#6a6a6a" stroke-width="1.1"/>
<text x="686.7" y="184.8" font-size="10.3" letter-spacing="0.45" fill="#ad3b63" stroke="#ad3b63" stroke-width="0.12">3.6</text>
<line x1="679.5" y1="137.7" x2="683.5" y2="137.7" stroke="#6a6a6a" stroke-width="1.1"/>
<text x="686.7" y="141.9" font-size="10.3" letter-spacing="0.45" fill="#ad3b63" stroke="#ad3b63" stroke-width="0.12">4.2</text>
<line x1="679.5" y1="94.8" x2="683.5" y2="94.8" stroke="#6a6a6a" stroke-width="1.1"/>
<text x="686.7" y="99.0" font-size="10.3" letter-spacing="0.45" fill="#ad3b63" stroke="#ad3b63" stroke-width="0.12">4.8</text>
<line x1="679.5" y1="51.9" x2="683.5" y2="51.9" stroke="#6a6a6a" stroke-width="1.1"/>
<text x="686.7" y="56.1" font-size="10.3" letter-spacing="0.45" fill="#ad3b63" stroke="#ad3b63" stroke-width="0.12">5.4</text>
<line x1="50.0" y1="438.0" x2="50.0" y2="442.0" stroke="#6a6a6a" stroke-width="1.1"/>
<text x="50.2" y="453.2" font-size="10.3" letter-spacing="0.45" fill="#2b2b2b" stroke="#2b2b2b" stroke-width="0.12" text-anchor="middle">0</text>
<line x1="133.9" y1="438.0" x2="133.9" y2="442.0" stroke="#6a6a6a" stroke-width="1.1"/>
<text x="134.1" y="453.2" font-size="10.3" letter-spacing="0.45" fill="#2b2b2b" stroke="#2b2b2b" stroke-width="0.12" text-anchor="middle">20</text>
<line x1="217.8" y1="438.0" x2="217.8" y2="442.0" stroke="#6a6a6a" stroke-width="1.1"/>
<text x="218.0" y="453.2" font-size="10.3" letter-spacing="0.45" fill="#2b2b2b" stroke="#2b2b2b" stroke-width="0.12" text-anchor="middle">40</text>
<line x1="301.7" y1="438.0" x2="301.7" y2="442.0" stroke="#6a6a6a" stroke-width="1.1"/>
<text x="301.9" y="453.2" font-size="10.3" letter-spacing="0.45" fill="#2b2b2b" stroke="#2b2b2b" stroke-width="0.12" text-anchor="middle">60</text>
<line x1="385.6" y1="438.0" x2="385.6" y2="442.0" stroke="#6a6a6a" stroke-width="1.1"/>
<text x="385.8" y="453.2" font-size="10.3" letter-spacing="0.45" fill="#2b2b2b" stroke="#2b2b2b" stroke-width="0.12" text-anchor="middle">80</text>
<line x1="469.5" y1="438.0" x2="469.5" y2="442.0" stroke="#6a6a6a" stroke-width="1.1"/>
<text x="469.7" y="453.2" font-size="10.3" letter-spacing="0.45" fill="#2b2b2b" stroke="#2b2b2b" stroke-width="0.12" text-anchor="middle">100</text>
<line x1="553.4" y1="438.0" x2="553.4" y2="442.0" stroke="#6a6a6a" stroke-width="1.1"/>
<text x="553.6" y="453.2" font-size="10.3" letter-spacing="0.45" fill="#2b2b2b" stroke="#2b2b2b" stroke-width="0.12" text-anchor="middle">120</text>
<line x1="637.3" y1="438.0" x2="637.3" y2="442.0" stroke="#6a6a6a" stroke-width="1.1"/>
<text x="637.5" y="453.2" font-size="10.3" letter-spacing="0.45" fill="#2b2b2b" stroke="#2b2b2b" stroke-width="0.12" text-anchor="middle">140</text>
<text x="364.2" y="470.5" font-size="15.2" textLength="95" lengthAdjust="spacingAndGlyphs" fill="#2b2b2b" stroke="#2b2b2b" stroke-width="0.12" text-anchor="middle">Time (nsec)</text>
<text transform="translate(16.5,235.3) rotate(-90)" font-size="15.2" textLength="141" lengthAdjust="spacingAndGlyphs" fill="#2b2b2b" stroke="#2b2b2b" stroke-width="0.12" text-anchor="middle">Protein RMSD (Å)</text>
<text transform="translate(710.5,238.6) rotate(90)" font-size="15.2" textLength="134.5" lengthAdjust="spacingAndGlyphs" fill="#ad3b63" stroke="#ad3b63" stroke-width="0.12" text-anchor="middle">Ligand RMSD (Å)</text>
<rect x="258.3" y="3.3" width="212.3" height="14" rx="2.5" fill="#fff" stroke="#d9d9d9" stroke-width="1"/>
<rect x="256" y="5.4" width="18.5" height="8.2" fill="#4e7898"/>
<text x="274.6" y="13.1" font-size="10" textLength="12.4" lengthAdjust="spacingAndGlyphs" fill="#2b2b2b" stroke="#2b2b2b" stroke-width="0.12">Cα</text>
<rect x="287.2" y="5.4" width="17.7" height="8.2" fill="#ad3b63"/>
<text x="305" y="13.1" font-size="10" textLength="76" lengthAdjust="spacingAndGlyphs" fill="#2b2b2b" stroke="#2b2b2b" stroke-width="0.12">(Lig) fit on Prot</text>
<rect x="380.7" y="5.4" width="18.6" height="8.2" fill="#d84fc8"/>
<text x="399.6" y="13.1" font-size="10" textLength="68.2" lengthAdjust="spacingAndGlyphs" fill="#2b2b2b" stroke="#2b2b2b" stroke-width="0.12">(Lig) fit on Lig</text>
<g clip-path="url(#cr)">
<rect x="852.5" y="38.7" width="4.3" height="394.5" fill="#fbdfda"/>
<rect x="879.5" y="38.7" width="5.5" height="394.5" fill="#fbdfda"/>
<rect x="887.8" y="38.7" width="7.3" height="394.5" fill="#fbdfda"/>
<rect x="931.3" y="38.7" width="13.4" height="394.5" fill="#fbdfda"/>
<rect x="964.8" y="38.7" width="6.5" height="394.5" fill="#fbdfda"/>
<rect x="1042.4" y="38.7" width="17.6" height="394.5" fill="#fbdfda"/>
<rect x="1108.4" y="38.7" width="13.7" height="394.5" fill="#fbdfda"/>
<rect x="1183.7" y="38.7" width="9.4" height="394.5" fill="#fbdfda"/>
<rect x="1232.1" y="38.7" width="6.5" height="394.5" fill="#fbdfda"/>
<rect x="1240.4" y="38.7" width="4.7" height="394.5" fill="#fbdfda"/>
<rect x="1279.2" y="38.7" width="8.9" height="394.5" fill="#fbdfda"/>
<rect x="1297.3" y="38.7" width="9.1" height="394.5" fill="#fbdfda"/>
<rect x="1353.5" y="38.7" width="4.8" height="394.5" fill="#fbdfda"/>
<rect x="1364.4" y="38.7" width="20.7" height="394.5" fill="#fbdfda"/>
<rect x="858.6" y="38.7" width="4.9" height="394.5" fill="#d8f0f7"/>
<rect x="897.6" y="38.7" width="4.4" height="394.5" fill="#d8f0f7"/>
<rect x="905.2" y="38.7" width="1.9" height="394.5" fill="#d8f0f7"/>
<rect x="948.1" y="38.7" width="7.3" height="394.5" fill="#d8f0f7"/>
<rect x="957.5" y="38.7" width="4.1" height="394.5" fill="#d8f0f7"/>
<rect x="982.6" y="38.7" width="4.8" height="394.5" fill="#d8f0f7"/>
<rect x="1012.1" y="38.7" width="6.3" height="394.5" fill="#d8f0f7"/>
<rect x="1023.0" y="38.7" width="4.8" height="394.5" fill="#d8f0f7"/>
<rect x="1033.9" y="38.7" width="4.5" height="394.5" fill="#d8f0f7"/>
<rect x="1064.2" y="38.7" width="5.4" height="394.5" fill="#d8f0f7"/>
<rect x="1132.0" y="38.7" width="7.0" height="394.5" fill="#d8f0f7"/>
<rect x="1158.6" y="38.7" width="4.0" height="394.5" fill="#d8f0f7"/>
<rect x="1207.8" y="38.7" width="2.6" height="394.5" fill="#d8f0f7"/>
<rect x="1250.3" y="38.7" width="5.1" height="394.5" fill="#d8f0f7"/>
<rect x="1392.0" y="38.7" width="3.0" height="394.5" fill="#d8f0f7"/>
<rect x="1401.6" y="38.7" width="7.4" height="394.5" fill="#d8f0f7"/>
<rect x="1412.1" y="38.7" width="8.3" height="394.5" fill="#d8f0f7"/>
<rect x="1426.1" y="38.7" width="2.7" height="394.5" fill="#d8f0f7"/>
<rect x="1438.3" y="38.7" width="6.4" height="394.5" fill="#d8f0f7"/>
<rect x="1454.7" y="38.7" width="2.8" height="394.5" fill="#d8f0f7"/>
<rect x="1461.4" y="38.7" width="6.8" height="394.5" fill="#d8f0f7"/>
<polygon points="914.1,433.2 914.4,393.8 915.9,393.8 916.2,433.2" fill="#1b8c1b" fill-opacity="1"/>
<polygon points="957.1,433.2 957.4,396.6 958.9,396.6 959.2,433.2" fill="#1b8c1b" fill-opacity="1"/>
<polygon points="1007.4,433.2 1007.4,386.9 1009.0,386.9 1009.0,433.2" fill="#1b8c1b" fill-opacity="1"/>
<polygon points="1008.6,433.2 1008.9,376 1010.4,376 1010.7,433.2" fill="#1b8c1b" fill-opacity="1"/>
<polygon points="1028.3,433.2 1028.5,388.5 1030.1,388.5 1030.4,433.2" fill="#1b8c1b" fill-opacity="1"/>
<polygon points="1066.0,433.2 1066.9,395.3 1070.3,395.3 1071.2,433.2" fill="#1b8c1b" fill-opacity="1"/>
<polygon points="1071.4,433.2 1072.1,390.5 1073.7,390.5 1074.4,433.2" fill="#1b8c1b" fill-opacity="0.7"/>
<polygon points="1095.4,433.2 1095.6,343 1097.2,343 1097.4,433.2" fill="#1b8c1b" fill-opacity="1"/>
<polygon points="1101.6,433.2 1101.8,372 1103.4,372 1103.6,433.2" fill="#1b8c1b" fill-opacity="0.75"/>
<polygon points="1135.5,433.2 1136.0,392 1137.5,392 1138.0,433.2" fill="#1b8c1b" fill-opacity="1"/>
<polygon points="1137.6,433.2 1138.5,308.4 1141.1,308.4 1142.0,433.2" fill="#1b8c1b" fill-opacity="1"/>
<polygon points="1160.4,433.2 1161.2,371.6 1162.8,371.6 1163.6,433.2" fill="#1b8c1b" fill-opacity="1"/>
<polygon points="1163.2,433.2 1164.1,313.7 1165.8,313.7 1166.7,433.2" fill="#1b8c1b" fill-opacity="1"/>
<polygon points="1169.7,433.2 1170.5,274.8 1172.1,274.8 1173.0,433.2" fill="#1b8c1b" fill-opacity="1"/>
<polygon points="1172.6,433.2 1173.5,346 1175.9,346 1176.8,433.2" fill="#1b8c1b" fill-opacity="0.85"/>
<polygon points="1210.7,433.2 1211.3,339.4 1212.9,339.4 1213.5,433.2" fill="#1b8c1b" fill-opacity="1"/>
<polygon points="1213.1,433.2 1214.0,363.6 1216.8,363.6 1217.7,433.2" fill="#1b8c1b" fill-opacity="1"/>
<polygon points="1210.7,433.2 1211.6,380 1217.5,380 1218.4,433.2" fill="#1b8c1b" fill-opacity="1"/>
<polygon points="1277.4,433.2 1277.6,380 1279.2,380 1279.5,433.2" fill="#1b8c1b" fill-opacity="1"/>
<polygon points="1310.8,433.2 1311.0,387 1312.6,387 1312.8,433.2" fill="#1b8c1b" fill-opacity="0.9"/>
<polygon points="1315.1,433.2 1315.3,388 1316.9,388 1317.1,433.2" fill="#1b8c1b" fill-opacity="0.9"/>
<polyline points="840.5,20.0 841.0,120.0 841.4,190.0 841.6,207.9 842.1,261.0 842.7,281.0 843.1,300.0 843.7,314.7 844.5,328.0 844.8,329.8 845.9,341.4 846.8,349.0 847.0,350.4 848.0,357.4 848.8,365.0 849.1,367.1 850.2,367.3 851.3,372.2 851.6,374.0 852.3,373.7 853.4,375.4 854.5,380.6 854.5,381.0 855.6,378.2 856.5,375.0 856.6,375.6 857.7,378.2 858.7,388.0 858.8,388.2 859.9,391.8 861.0,392.4 861.0,395.0 862.0,388.3 863.0,385.0 863.1,386.8 864.2,384.5 865.3,386.5 866.3,388.7 867.3,388.0 867.4,387.6 868.5,385.5 869.6,383.1 870.0,382.0 870.6,377.9 871.7,373.0 872.8,361.3 873.0,362.5 873.9,366.3 875.0,369.5 875.8,374.0 876.0,376.4 877.1,378.6 878.2,386.0 878.6,388.0 879.3,387.1 880.3,387.4 881.4,385.1 882.5,385.3 882.9,383.8 883.6,380.4 884.6,378.0 885.7,374.0 885.7,374.2 886.8,368.9 887.9,366.6 888.6,365.4 888.9,370.4 890.0,379.6 890.0,377.4 891.1,374.9 892.2,373.9 892.8,371.0 893.3,366.9 894.3,359.5 895.1,354.0 895.4,358.8 896.5,370.0 897.0,376.7 897.6,379.0 898.6,386.9 899.7,388.9 900.0,391.0 900.8,393.1 901.9,394.5 902.8,396.6 902.9,394.7 904.0,395.4 905.1,393.6 905.6,393.8 906.2,385.3 907.2,366.3 908.3,349.5 908.5,345.5 909.4,355.4 910.5,363.5 911.3,371.0 911.6,370.7 912.6,380.9 913.3,385.0 913.7,383.3 914.8,390.2 915.6,393.8 915.9,393.7 916.9,395.5 918.0,389.1 919.1,388.0 919.8,388.0 920.2,388.5 921.2,386.7 922.3,385.9 923.4,386.6 924.0,385.0 924.5,382.0 925.6,380.6 926.6,377.8 927.0,376.7 927.7,375.7 928.8,371.7 929.8,371.0 929.9,371.5 930.9,374.2 932.0,376.1 933.1,379.7 934.0,382.4 934.2,380.6 935.2,383.0 936.3,379.0 937.4,383.8 938.3,382.4 938.5,383.7 939.5,381.8 940.6,385.1 941.7,384.7 942.6,385.0 942.8,386.6 943.9,384.5 944.9,379.7 946.0,376.9 946.3,376.7 947.1,379.1 948.2,387.8 949.2,390.6 949.7,393.8 950.3,393.3 951.4,395.0 952.5,395.4 953.5,400.9 954.0,399.5 954.6,400.3 955.7,397.5 956.8,395.1 957.6,395.2 957.8,393.6 958.9,391.2 960.0,387.4 961.0,385.0 961.1,382.6 962.2,381.5 963.2,383.3 964.3,377.5 965.3,376.7 965.4,377.1 966.5,376.6 967.5,369.8 968.6,369.7 969.6,368.0 969.7,364.5 970.8,361.0 971.8,352.2 972.4,348.3 972.9,342.6 974.0,335.2 975.1,324.2 975.2,324.0 976.2,331.1 977.2,342.6 977.2,345.0 978.3,352.7 979.4,364.7 979.5,365.4 980.5,371.3 981.5,378.7 982.6,387.9 983.2,391.0 983.7,388.3 984.8,383.2 985.8,379.7 986.6,374.0 986.9,370.8 988.0,356.5 989.1,342.3 990.1,333.2 990.9,322.7 991.2,313.8 992.3,286.2 992.5,280.0 993.4,262.4 994.5,237.9 994.6,234.8 995.5,267.3 996.0,280.0 996.6,311.2 997.1,334.0 997.7,339.4 998.8,348.5 999.8,355.2 1000.0,354.0 1000.9,355.0 1002.0,363.4 1002.8,365.4 1003.1,366.5 1004.1,372.2 1005.2,372.5 1005.6,376.7 1006.3,380.0 1007.4,384.1 1007.6,385.0 1008.4,379.6 1009.3,374.0 1009.5,372.2 1010.6,377.4 1011.3,379.6 1011.7,377.7 1012.8,383.1 1013.8,384.2 1014.2,385.0 1014.9,377.7 1016.0,369.6 1017.0,362.5 1017.1,360.3 1018.1,348.7 1019.2,333.8 1019.3,334.0 1020.3,341.6 1021.3,348.3 1021.4,346.9 1022.4,363.1 1023.5,374.0 1023.5,374.1 1024.6,378.1 1025.7,386.0 1026.4,391.0 1026.8,391.4 1027.8,393.1 1028.4,393.8 1028.9,391.5 1030.0,380.9 1031.1,368.6 1031.2,371.0 1032.1,374.4 1033.2,385.0 1033.2,384.2 1034.3,392.8 1035.4,396.3 1036.0,399.5 1036.4,396.2 1037.5,395.3 1038.6,389.5 1038.9,388.0 1039.7,383.8 1040.7,378.2 1041.8,373.6 1042.6,368.2 1042.9,370.1 1044.0,373.5 1045.1,381.5 1045.4,382.4 1046.1,386.3 1047.2,385.7 1048.3,390.7 1048.3,391.0 1049.4,387.2 1050.4,390.3 1051.5,388.1 1052.0,385.0 1052.6,384.2 1053.7,379.8 1054.7,371.3 1054.8,375.3 1055.8,373.4 1056.9,371.7 1058.0,368.0 1059.0,367.3 1059.6,366.8 1060.1,370.5 1061.2,372.8 1062.3,375.9 1062.5,376.7 1063.4,381.3 1064.4,388.4 1064.5,389.5 1065.5,393.6 1066.6,394.2 1067.3,393.8 1067.7,395.2 1068.7,395.3 1069.8,396.4 1070.4,396.6 1070.9,395.2 1072.0,393.3 1073.0,391.0 1073.0,391.7 1074.1,386.7 1075.2,381.9 1075.3,382.4 1076.3,376.0 1077.4,364.4 1078.1,356.8 1078.4,353.8 1079.5,344.6 1080.4,339.8 1080.6,342.0 1081.7,344.5 1082.4,348.3 1082.7,344.2 1083.8,332.7 1084.9,317.9 1085.2,317.0 1086.0,195.1 1087.0,30.0 1087.0,29.7 1088.1,22.5 1088.5,20.0 1089.2,26.9 1089.5,30.0 1090.3,94.3 1091.0,155.0 1091.3,175.9 1091.5,185.0 1092.4,249.7 1093.0,290.0 1093.5,302.9 1094.6,330.0 1095.1,345.5 1095.7,341.5 1096.7,337.7 1097.4,337.0 1097.8,332.1 1098.9,326.1 1099.4,320.0 1100.0,328.3 1101.0,344.1 1101.4,348.3 1102.1,354.2 1103.2,362.8 1103.7,368.2 1104.3,368.8 1105.3,372.2 1106.4,372.5 1106.5,371.0 1107.5,372.6 1108.6,376.3 1109.4,379.6 1109.6,379.5 1110.7,381.3 1111.8,382.5 1112.2,382.4 1112.9,381.1 1113.5,380.0 1114.0,376.6 1115.0,369.9 1116.1,364.5 1116.6,358.0 1117.2,355.6 1118.3,348.2 1119.3,346.9 1119.7,344.7 1120.4,341.3 1121.5,343.1 1122.4,340.3 1122.6,333.9 1123.6,292.2 1124.1,278.4 1124.7,247.0 1125.5,207.7 1125.8,220.1 1126.9,265.3 1127.2,278.4 1128.0,293.2 1128.6,309.4 1129.0,316.4 1130.1,333.1 1131.2,353.5 1131.2,353.6 1132.3,365.9 1133.3,376.6 1134.3,384.5 1134.4,384.0 1135.5,387.8 1136.5,389.0 1136.6,386.8 1137.6,360.4 1138.7,332.4 1139.2,322.6 1139.8,312.8 1140.9,291.1 1141.8,274.0 1141.9,275.1 1143.0,266.7 1143.6,267.4 1144.1,276.9 1145.2,297.0 1145.4,300.5 1146.3,310.7 1147.3,320.2 1147.6,322.6 1148.4,295.2 1149.5,263.3 1149.8,251.9 1150.6,264.1 1151.6,291.0 1152.0,296.1 1152.7,291.1 1153.8,277.5 1154.2,274.0 1154.9,290.2 1155.9,325.1 1156.0,322.6 1157.0,339.0 1158.1,350.1 1158.6,358.0 1159.2,353.0 1160.3,350.8 1160.8,349.2 1161.3,344.0 1162.4,341.2 1163.0,335.9 1163.5,330.1 1164.6,321.8 1165.3,316.3 1165.6,321.4 1166.7,337.6 1167.5,350.8 1167.8,349.6 1168.9,346.0 1169.9,343.1 1170.0,345.0 1171.0,350.3 1172.1,350.5 1173.0,356.4 1173.2,354.6 1174.2,349.6 1175.3,348.0 1175.7,345.0 1176.4,341.3 1177.5,328.2 1178.3,322.3 1178.6,320.9 1179.6,315.6 1180.6,312.8 1180.7,313.2 1181.8,321.3 1182.9,327.1 1183.3,330.0 1183.9,332.6 1185.0,337.5 1185.9,341.3 1186.1,340.8 1187.2,347.5 1188.2,352.6 1188.2,353.5 1189.3,346.0 1190.4,340.2 1190.8,341.3 1191.5,345.7 1192.5,345.8 1192.7,348.8 1193.6,334.7 1194.6,322.3 1194.7,320.5 1195.8,292.8 1196.5,276.8 1196.9,270.0 1197.9,245.5 1198.4,235.2 1199.0,248.5 1200.1,270.1 1200.3,276.8 1201.2,266.7 1201.8,254.1 1202.2,268.9 1203.3,303.4 1203.3,303.9 1204.4,324.1 1204.9,333.7 1205.5,346.4 1206.4,371.6 1206.5,371.8 1207.6,384.8 1207.9,390.5 1208.7,382.3 1209.8,366.6 1209.8,367.8 1210.9,373.5 1211.7,379.2 1211.9,373.2 1213.0,371.4 1214.0,364.0 1214.1,365.8 1215.2,364.3 1216.2,367.8 1216.2,365.1 1217.3,357.1 1218.4,352.0 1218.5,348.8 1219.5,346.8 1220.5,344.5 1221.2,345.0 1221.6,342.0 1222.7,336.3 1223.8,329.9 1223.8,329.9 1224.8,309.1 1225.9,291.3 1226.1,288.2 1227.0,284.9 1228.0,276.8 1228.1,276.9 1229.2,280.2 1229.9,284.4 1230.2,291.3 1231.3,317.0 1231.7,327.6 1232.4,331.3 1233.4,341.0 1233.5,341.5 1234.5,353.5 1235.0,358.0 1235.6,357.4 1236.7,358.2 1236.7,359.7 1237.8,366.2 1238.4,371.4 1238.8,372.0 1239.9,371.4 1240.8,374.8 1241.0,373.1 1242.1,377.0 1243.1,380.2 1243.5,381.6 1244.2,383.5 1245.3,386.3 1246.2,388.3 1246.4,387.4 1247.5,385.9 1248.5,385.0 1248.5,384.7 1249.6,388.7 1250.7,394.2 1250.9,395.0 1251.8,393.2 1252.8,390.4 1253.6,388.3 1253.9,387.0 1255.0,386.6 1256.1,381.0 1256.3,383.2 1257.1,380.5 1258.2,376.6 1258.6,374.8 1259.3,372.8 1260.4,371.9 1261.0,371.4 1261.5,372.4 1262.5,372.6 1263.6,370.5 1263.7,373.0 1264.7,372.0 1265.4,368.0 1265.8,367.3 1266.8,361.3 1267.7,361.3 1267.9,361.4 1269.0,359.3 1269.8,364.7 1270.1,361.4 1271.1,358.1 1271.8,358.0 1272.2,363.2 1273.1,368.0 1273.3,369.6 1274.4,378.5 1274.5,376.5 1275.4,377.1 1276.5,378.2 1276.5,376.2 1277.6,377.9 1278.7,380.4 1278.9,379.9 1279.8,374.1 1280.6,368.0 1280.8,365.3 1281.9,359.5 1283.0,353.8 1283.2,351.2 1284.1,343.3 1285.1,330.1 1285.6,324.3 1286.2,316.3 1287.3,299.0 1288.0,290.6 1288.4,286.0 1289.4,268.6 1290.0,260.2 1290.5,241.8 1291.6,203.7 1291.7,200.0 1292.7,125.5 1293.7,46.7 1293.7,50.8 1294.8,142.5 1295.5,200.0 1295.9,219.2 1297.0,270.5 1297.4,290.6 1298.1,296.1 1299.1,316.7 1299.4,321.0 1300.2,327.9 1300.8,331.0 1301.3,344.1 1302.1,361.3 1302.4,362.4 1303.4,365.8 1304.2,366.4 1304.5,368.2 1305.6,376.1 1306.2,378.2 1306.7,377.3 1307.7,375.8 1308.5,374.8 1308.8,378.3 1309.9,380.7 1310.9,385.0 1311.0,383.5 1312.1,386.1 1313.1,387.4 1313.6,388.3 1314.2,390.7 1315.3,388.0 1316.3,391.7 1316.4,392.1 1317.4,387.3 1318.5,382.8 1318.6,385.0 1319.6,387.1 1320.7,388.6 1321.0,388.3 1321.7,377.5 1322.8,357.3 1323.0,354.6 1323.9,337.2 1324.7,324.3 1325.0,321.4 1326.0,306.9 1326.1,307.4 1327.1,329.3 1327.7,341.0 1328.2,349.2 1329.3,365.8 1329.8,374.8 1330.4,368.2 1331.4,357.6 1331.8,354.6 1332.5,349.8 1333.6,336.6 1334.2,326.0 1334.7,330.7 1335.7,342.9 1335.8,341.0 1336.8,347.6 1337.9,358.1 1337.9,358.0 1339.0,365.6 1339.9,374.8 1340.0,372.7 1341.1,377.7 1342.2,377.0 1342.2,378.2 1343.3,376.2 1344.3,374.5 1344.6,373.0 1345.4,360.6 1346.5,341.1 1346.6,341.0 1347.6,319.6 1348.6,300.7 1348.7,301.3 1349.7,312.4 1350.3,320.0 1350.8,344.8 1351.0,354.6 1351.9,364.3 1352.7,378.2 1353.0,376.9 1354.0,378.8 1354.7,373.0 1355.1,373.5 1356.2,376.7 1356.7,376.5 1357.3,369.4 1358.3,356.4 1358.4,356.3 1359.4,357.1 1360.5,357.4 1360.8,356.3 1361.6,361.3 1362.7,363.7 1362.8,361.3 1363.7,378.1 1364.2,385.0 1364.8,386.8 1365.9,386.7 1366.9,388.3 1367.0,389.3 1368.0,386.3 1369.1,382.8 1369.5,385.0 1370.2,385.8 1371.2,390.0 1371.3,388.9 1372.3,386.2 1373.4,380.0 1373.6,383.2 1374.5,385.9 1375.6,389.9 1376.3,390.0 1376.6,388.3 1377.7,379.8 1378.6,378.2 1378.8,376.6 1379.9,379.2 1381.0,381.7 1381.0,381.6 1382.0,379.6 1383.1,373.9 1383.7,374.8 1384.2,373.4 1385.3,370.4 1386.3,368.0 1386.4,368.0 1387.4,358.5 1388.5,347.7 1388.8,347.8 1389.6,350.2 1390.6,349.7 1391.1,346.2 1391.7,346.8 1392.8,343.7 1393.1,344.5 1393.9,327.6 1394.8,307.4 1394.9,304.7 1396.0,288.9 1396.8,277.0 1397.1,281.2 1398.2,295.2 1398.9,307.4 1399.3,318.8 1400.3,338.5 1400.6,344.5 1401.4,347.0 1402.2,347.8 1402.5,348.9 1403.6,361.0 1403.9,364.7 1404.6,366.0 1405.7,367.1 1406.6,368.0 1406.8,364.8 1407.9,353.9 1408.9,340.8 1409.0,341.0 1410.0,314.9 1410.2,314.0 1411.1,329.3 1411.7,341.0 1412.2,348.9 1413.3,366.0 1414.0,374.8 1414.3,375.2 1415.4,370.8 1416.5,367.5 1416.7,368.0 1417.6,361.4 1418.6,353.2 1419.7,349.5 1420.1,347.8 1420.8,342.5 1421.9,337.4 1422.8,331.0 1422.9,333.8 1424.0,333.2 1425.1,333.3 1425.2,336.0 1426.2,325.2 1427.2,314.5 1427.5,314.0 1428.3,300.7 1429.4,282.5 1430.2,273.7 1430.5,268.0 1431.6,246.9 1431.9,240.0 1432.6,204.0 1433.7,150.8 1434.8,97.6 1434.8,96.8 1435.9,186.1 1436.5,240.0 1436.9,255.1 1438.0,300.3 1438.6,324.0 1439.1,333.3 1440.2,350.5 1441.0,368.0 1441.2,369.4 1442.3,372.7 1442.7,376.5 1443.4,373.0 1444.5,368.6 1445.4,364.7 1445.5,362.2 1446.6,342.0 1447.7,324.0 1447.7,322.8 1448.8,298.1 1449.8,273.7 1449.9,266.4 1450.4,150.0 1450.9,141.1 1451.0,140.0 1451.6,152.0 1452.0,176.0 1453.1,239.1 1453.1,240.0 1454.2,289.6 1454.5,307.4 1455.2,321.6 1456.3,340.7 1456.5,347.8 1457.4,346.5 1458.5,346.6 1458.9,346.0 1459.5,348.4 1460.6,359.3 1461.2,364.7 1461.7,368.7 1462.8,374.4 1463.9,379.9 1463.9,381.6 1464.9,365.2 1466.0,348.1 1466.6,341.0 1467.1,320.2 1468.0,273.7 1468.2,267.2 1469.2,208.1 1469.5,194.0" fill="none" stroke="#4a7191" stroke-width="1.9" stroke-linejoin="round"/>
</g>
<rect x="840.0" y="38.7" width="629.0" height="394.5" fill="none" stroke="#7a7a7a" stroke-width="1.7"/>
<line x1="836.0" y1="391.8" x2="840.0" y2="391.8" stroke="#6a6a6a" stroke-width="1.1"/>
<text x="832.4" y="396.0" font-size="10.3" letter-spacing="0.45" fill="#2b2b2b" stroke="#2b2b2b" stroke-width="0.12" text-anchor="end">0.5</text>
<line x1="836.0" y1="349.9" x2="840.0" y2="349.9" stroke="#6a6a6a" stroke-width="1.1"/>
<text x="832.4" y="354.1" font-size="10.3" letter-spacing="0.45" fill="#2b2b2b" stroke="#2b2b2b" stroke-width="0.12" text-anchor="end">1.0</text>
<line x1="836.0" y1="308.0" x2="840.0" y2="308.0" stroke="#6a6a6a" stroke-width="1.1"/>
<text x="832.4" y="312.2" font-size="10.3" letter-spacing="0.45" fill="#2b2b2b" stroke="#2b2b2b" stroke-width="0.12" text-anchor="end">1.5</text>
<line x1="836.0" y1="266.1" x2="840.0" y2="266.1" stroke="#6a6a6a" stroke-width="1.1"/>
<text x="832.4" y="270.3" font-size="10.3" letter-spacing="0.45" fill="#2b2b2b" stroke="#2b2b2b" stroke-width="0.12" text-anchor="end">2.0</text>
<line x1="836.0" y1="224.2" x2="840.0" y2="224.2" stroke="#6a6a6a" stroke-width="1.1"/>
<text x="832.4" y="228.4" font-size="10.3" letter-spacing="0.45" fill="#2b2b2b" stroke="#2b2b2b" stroke-width="0.12" text-anchor="end">2.5</text>
<line x1="836.0" y1="182.3" x2="840.0" y2="182.3" stroke="#6a6a6a" stroke-width="1.1"/>
<text x="832.4" y="186.5" font-size="10.3" letter-spacing="0.45" fill="#2b2b2b" stroke="#2b2b2b" stroke-width="0.12" text-anchor="end">3.0</text>
<line x1="836.0" y1="140.4" x2="840.0" y2="140.4" stroke="#6a6a6a" stroke-width="1.1"/>
<text x="832.4" y="144.6" font-size="10.3" letter-spacing="0.45" fill="#2b2b2b" stroke="#2b2b2b" stroke-width="0.12" text-anchor="end">3.5</text>
<line x1="836.0" y1="98.5" x2="840.0" y2="98.5" stroke="#6a6a6a" stroke-width="1.1"/>
<text x="832.4" y="102.7" font-size="10.3" letter-spacing="0.45" fill="#2b2b2b" stroke="#2b2b2b" stroke-width="0.12" text-anchor="end">4.0</text>
<line x1="836.0" y1="56.6" x2="840.0" y2="56.6" stroke="#6a6a6a" stroke-width="1.1"/>
<text x="832.4" y="60.8" font-size="10.3" letter-spacing="0.45" fill="#2b2b2b" stroke="#2b2b2b" stroke-width="0.12" text-anchor="end">4.5</text>
<line x1="840.0" y1="433.2" x2="840.0" y2="437.2" stroke="#6a6a6a" stroke-width="1.1"/>
<text x="840.2" y="448.2" font-size="10.3" letter-spacing="0.45" fill="#2b2b2b" stroke="#2b2b2b" stroke-width="0.12" text-anchor="middle">0</text>
<line x1="947.7" y1="433.2" x2="947.7" y2="437.2" stroke="#6a6a6a" stroke-width="1.1"/>
<text x="947.9" y="448.2" font-size="10.3" letter-spacing="0.45" fill="#2b2b2b" stroke="#2b2b2b" stroke-width="0.12" text-anchor="middle">100</text>
<line x1="1055.3" y1="433.2" x2="1055.3" y2="437.2" stroke="#6a6a6a" stroke-width="1.1"/>
<text x="1055.5" y="448.2" font-size="10.3" letter-spacing="0.45" fill="#2b2b2b" stroke="#2b2b2b" stroke-width="0.12" text-anchor="middle">200</text>
<line x1="1163.0" y1="433.2" x2="1163.0" y2="437.2" stroke="#6a6a6a" stroke-width="1.1"/>
<text x="1163.2" y="448.2" font-size="10.3" letter-spacing="0.45" fill="#2b2b2b" stroke="#2b2b2b" stroke-width="0.12" text-anchor="middle">300</text>
<line x1="1270.6" y1="433.2" x2="1270.6" y2="437.2" stroke="#6a6a6a" stroke-width="1.1"/>
<text x="1270.8" y="448.2" font-size="10.3" letter-spacing="0.45" fill="#2b2b2b" stroke="#2b2b2b" stroke-width="0.12" text-anchor="middle">400</text>
<line x1="1378.3" y1="433.2" x2="1378.3" y2="437.2" stroke="#6a6a6a" stroke-width="1.1"/>
<text x="1378.5" y="448.2" font-size="10.3" letter-spacing="0.45" fill="#2b2b2b" stroke="#2b2b2b" stroke-width="0.12" text-anchor="middle">500</text>
<text x="1154.7" y="466.2" font-size="15.2" textLength="113.5" lengthAdjust="spacingAndGlyphs" fill="#2b2b2b" stroke="#2b2b2b" stroke-width="0.12" text-anchor="middle">Residue Index</text>
<text transform="translate(810.3,234.5) rotate(-90)" font-size="15.2" textLength="71" lengthAdjust="spacingAndGlyphs" fill="#2b2b2b" stroke="#2b2b2b" stroke-width="0.12" text-anchor="middle">RMSF (Å)</text>
<rect x="1123.2" y="2.9" width="62.4" height="14.2" rx="2.5" fill="#fff" stroke="#d9d9d9" stroke-width="1"/>
<rect x="1122" y="4.9" width="18.4" height="8.6" fill="#4e7898"/>
<text x="1140.6" y="13.0" font-size="10" textLength="42" lengthAdjust="spacingAndGlyphs" fill="#2b2b2b" stroke="#2b2b2b" stroke-width="0.12">C-alphas</text>
</svg></body></html>
